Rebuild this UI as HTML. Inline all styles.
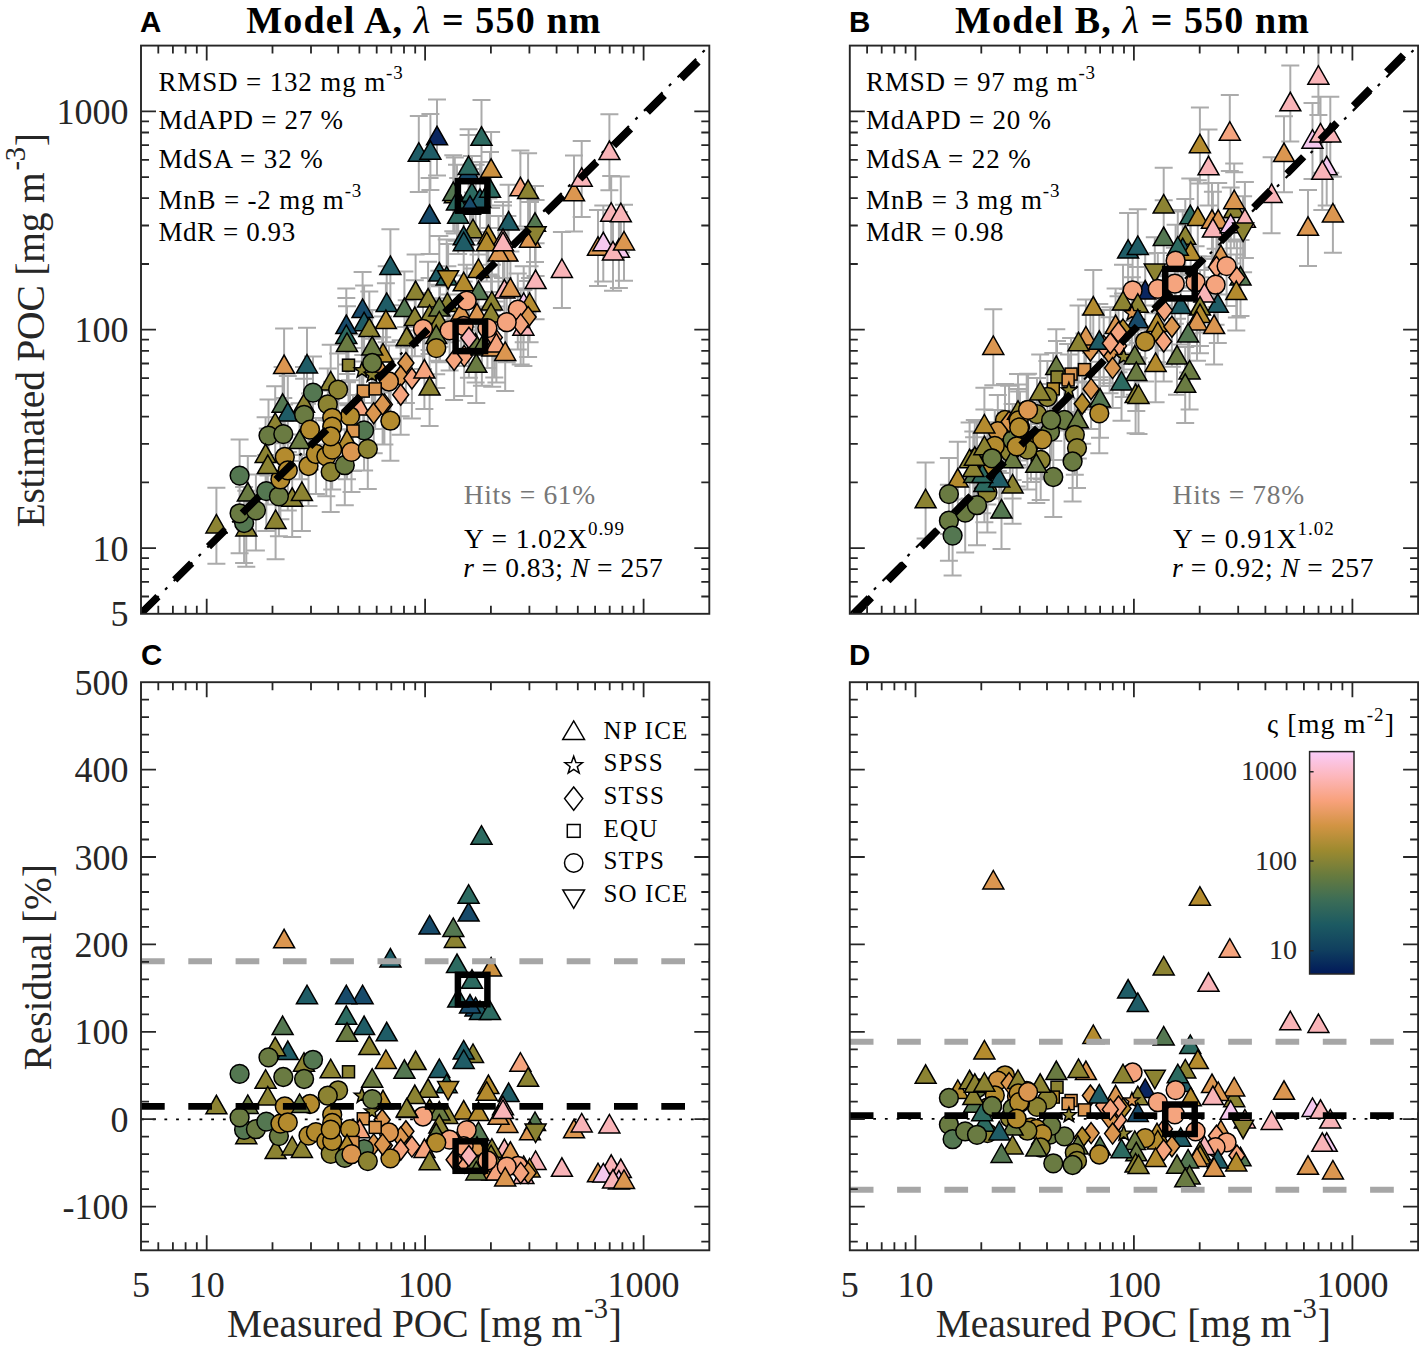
<!DOCTYPE html>
<html><head><meta charset="utf-8"><style>html,body{margin:0;padding:0;background:#fff;width:1419px;height:1350px;overflow:hidden}svg{display:block}</style></head>
<body><svg width="1419" height="1350" viewBox="0 0 1419 1350"><defs><clipPath id="clipA"><rect x="141.0" y="45.6" width="568.3" height="568.2"/></clipPath><clipPath id="clipB"><rect x="849.8" y="45.6" width="568.3" height="568.2"/></clipPath><clipPath id="clipC"><rect x="141.0" y="682.2" width="568.3" height="568.1"/></clipPath><clipPath id="clipD"><rect x="849.8" y="682.2" width="568.3" height="568.1"/></clipPath></defs><rect width="1419" height="1350" fill="#fff"/>
<g clip-path="url(#clipA)">
<path d="M437.0 99.6L437.0 175.6M428.0 99.6L446.0 99.6M428.0 175.6L446.0 175.6M418.8 115.9L418.8 191.9M409.8 115.9L427.8 115.9M409.8 191.9L427.8 191.9M430.4 114.0L430.4 190.0M421.4 114.0L439.4 114.0M421.4 190.0L439.4 190.0M481.5 100.0L481.5 176.0M472.5 100.0L490.5 100.0M472.5 176.0L490.5 176.0M491.1 132.0L491.1 208.0M482.1 132.0L500.1 132.0M482.1 208.0L500.1 208.0M468.6 134.9L468.6 210.9M459.6 134.9L477.6 134.9M459.6 210.9L477.6 210.9M468.6 129.3L468.6 205.3M459.6 129.3L477.6 129.3M459.6 205.3L477.6 205.3M454.8 157.6L454.8 233.6M445.8 157.6L463.8 157.6M445.8 233.6L463.8 233.6M453.3 155.3L453.3 231.3M444.3 155.3L462.3 155.3M444.3 231.3L462.3 231.3M457.0 164.7L457.0 240.7M448.0 164.7L466.0 164.7M448.0 240.7L466.0 240.7M475.6 164.7L475.6 240.7M466.6 164.7L484.6 164.7M466.6 240.7L484.6 240.7M472.0 156.0L472.0 232.0M463.0 156.0L481.0 156.0M463.0 232.0L481.0 232.0M480.0 162.0L480.0 238.0M471.0 162.0L489.0 162.0M471.0 238.0L489.0 238.0M490.0 152.1L490.0 228.1M481.0 152.1L499.0 152.1M481.0 228.1L499.0 228.1M470.0 169.0L470.0 245.0M461.0 169.0L479.0 169.0M461.0 245.0L479.0 245.0M429.6 178.1L429.6 254.1M420.6 178.1L438.6 178.1M420.6 254.1L438.6 254.1M458.2 178.0L458.2 254.0M449.2 178.0L467.2 178.0M449.2 254.0L467.2 254.0M508.6 184.8L508.6 260.8M499.6 184.8L517.6 184.8M499.6 260.8L517.6 260.8M473.0 192.5L473.0 268.5M464.0 192.5L482.0 192.5M464.0 268.5L482.0 268.5M463.7 199.6L463.7 275.6M454.7 199.6L472.7 199.6M454.7 275.6L472.7 275.6M488.4 198.6L488.4 274.6M479.4 198.6L497.4 198.6M479.4 274.6L497.4 274.6M503.0 202.0L503.0 278.0M494.0 202.0L512.0 202.0M494.0 278.0L512.0 278.0M520.4 150.6L520.4 226.6M511.4 150.6L529.4 150.6M511.4 226.6L529.4 226.6M528.1 153.3L528.1 229.3M519.1 153.3L537.1 153.3M519.1 229.3L537.1 229.3M535.0 186.0L535.0 262.0M526.0 186.0L544.0 186.0M526.0 262.0L544.0 262.0M530.0 202.0L530.0 278.0M521.0 202.0L539.0 202.0M521.0 278.0L539.0 278.0M535.6 200.0L535.6 276.0M526.6 200.0L544.6 200.0M526.6 276.0L544.6 276.0M574.0 155.5L574.0 231.5M565.0 155.5L583.0 155.5M565.0 231.5L583.0 231.5M581.7 141.0L581.7 217.0M572.7 141.0L590.7 141.0M572.7 217.0L590.7 217.0M609.4 114.3L609.4 190.3M600.4 114.3L618.4 114.3M600.4 190.3L618.4 190.3M611.2 175.9L611.2 251.9M602.2 175.9L620.2 175.9M602.2 251.9L620.2 251.9M620.8 176.5L620.8 252.5M611.8 176.5L629.8 176.5M611.8 252.5L629.8 252.5M598.0 210.0L598.0 286.0M589.0 210.0L607.0 210.0M589.0 286.0L607.0 286.0M603.3 205.6L603.3 281.6M594.3 205.6L612.3 205.6M594.3 281.6L612.3 281.6M618.9 212.0L618.9 288.0M609.9 212.0L627.9 212.0M609.9 288.0L627.9 288.0M613.0 214.7L613.0 290.7M604.0 214.7L622.0 214.7M604.0 290.7L622.0 290.7M624.0 204.7L624.0 280.7M615.0 204.7L633.0 204.7M615.0 280.7L633.0 280.7M390.4 229.2L390.4 305.2M381.4 229.2L399.4 229.2M381.4 305.2L399.4 305.2M561.9 232.1L561.9 308.1M552.9 232.1L570.9 232.1M552.9 308.1L570.9 308.1M535.6 243.3L535.6 319.3M526.6 243.3L544.6 243.3M526.6 319.3L544.6 319.3M439.3 235.9L439.3 311.9M430.3 235.9L448.3 235.9M430.3 311.9L448.3 311.9M446.7 239.6L446.7 315.6M437.7 239.6L455.7 239.6M437.7 315.6L455.7 315.6M448.1 244.0L448.1 320.0M439.1 244.0L457.1 244.0M439.1 320.0L457.1 320.0M463.7 245.5L463.7 321.5M454.7 245.5L472.7 245.5M454.7 321.5L472.7 321.5M478.5 232.1L478.5 308.1M469.5 232.1L487.5 232.1M469.5 308.1L487.5 308.1M504.4 252.9L504.4 328.9M495.4 252.9L513.4 252.9M495.4 328.9L513.4 328.9M510.4 251.4L510.4 327.4M501.4 251.4L519.4 251.4M501.4 327.4L519.4 327.4M478.5 254.4L478.5 330.4M469.5 254.4L487.5 254.4M469.5 330.4L487.5 330.4M491.9 264.7L491.9 340.7M482.9 264.7L500.9 264.7M482.9 340.7L500.9 340.7M507.4 215.9L507.4 291.9M498.4 215.9L516.4 215.9M498.4 291.9L516.4 291.9M498.5 215.9L498.5 291.9M489.5 215.9L507.5 215.9M489.5 291.9L507.5 291.9M463.7 205.5L463.7 281.5M454.7 205.5L472.7 205.5M454.7 281.5L472.7 281.5M486.7 205.5L486.7 281.5M477.7 205.5L495.7 205.5M477.7 281.5L495.7 281.5M503.0 205.5L503.0 281.5M494.0 205.5L512.0 205.5M494.0 281.5L512.0 281.5M415.6 254.4L415.6 330.4M406.6 254.4L424.6 254.4M406.6 330.4L424.6 330.4M428.1 261.8L428.1 337.8M419.1 261.8L437.1 261.8M419.1 337.8L437.1 337.8M386.7 266.2L386.7 342.2M377.7 266.2L395.7 266.2M377.7 342.2L395.7 342.2M404.4 271.4L404.4 347.4M395.4 271.4L413.4 271.4M395.4 347.4L413.4 347.4M385.9 283.3L385.9 359.3M376.9 283.3L394.9 283.3M376.9 359.3L394.9 359.3M414.8 280.3L414.8 356.3M405.8 280.3L423.8 280.3M405.8 356.3L423.8 356.3M429.6 278.1L429.6 354.1M420.6 278.1L438.6 278.1M420.6 354.1L438.6 354.1M440.0 286.2L440.0 362.2M431.0 286.2L449.0 286.2M431.0 362.2L449.0 362.2M447.4 266.2L447.4 342.2M438.4 266.2L456.4 266.2M438.4 342.2L456.4 342.2M439.3 270.7L439.3 346.7M430.3 270.7L448.3 270.7M430.3 346.7L448.3 346.7M439.3 284.7L439.3 360.7M430.3 284.7L448.3 284.7M430.3 360.7L448.3 360.7M464.2 320.1L464.2 396.1M455.2 320.1L473.2 320.1M455.2 396.1L473.2 396.1M475.6 306.6L475.6 382.6M466.6 306.6L484.6 306.6M466.6 382.6L484.6 382.6M481.9 309.7L481.9 385.7M472.9 309.7L490.9 309.7M472.9 385.7L490.9 385.7M492.2 310.8L492.2 386.8M483.2 310.8L501.2 310.8M483.2 386.8L501.2 386.8M494.3 301.4L494.3 377.4M485.3 301.4L503.3 301.4M485.3 377.4L503.3 377.4M496.4 306.6L496.4 382.6M487.4 306.6L505.4 306.6M487.4 382.6L505.4 382.6M523.4 290.0L523.4 366.0M514.4 290.0L532.4 290.0M514.4 366.0L532.4 366.0M461.1 275.5L461.1 351.5M452.1 275.5L470.1 275.5M452.1 351.5L470.1 351.5M436.2 298.3L436.2 374.3M427.2 298.3L445.2 298.3M427.2 374.3L445.2 374.3M466.7 264.7L466.7 340.7M457.7 264.7L475.7 264.7M457.7 340.7L475.7 340.7M477.0 276.6L477.0 352.6M468.0 276.6L486.0 276.6M468.0 352.6L486.0 352.6M491.1 276.6L491.1 352.6M482.1 276.6L500.1 276.6M482.1 352.6L500.1 352.6M523.7 266.2L523.7 342.2M514.7 266.2L532.7 266.2M514.7 342.2L532.7 342.2M529.6 266.2L529.6 342.2M520.6 266.2L538.6 266.2M520.6 342.2L538.6 342.2M517.8 273.6L517.8 349.6M508.8 273.6L526.8 273.6M508.8 349.6L526.8 349.6M528.1 281.0L528.1 357.0M519.1 281.0L537.1 281.0M519.1 357.0L537.1 357.0M520.7 288.4L520.7 364.4M511.7 288.4L529.7 288.4M511.7 364.4L529.7 364.4M506.7 286.2L506.7 362.2M497.7 286.2L515.7 286.2M497.7 362.2L515.7 362.2M449.6 294.4L449.6 370.4M440.6 294.4L458.6 294.4M440.6 370.4L458.6 370.4M463.7 290.0L463.7 366.0M454.7 290.0L472.7 290.0M454.7 366.0L472.7 366.0M487.4 292.1L487.4 368.1M478.4 292.1L496.4 292.1M478.4 368.1L496.4 368.1M423.0 292.9L423.0 368.9M414.0 292.9L432.0 292.9M414.0 368.9L432.0 368.9M468.9 301.8L468.9 377.8M459.9 301.8L477.9 301.8M459.9 377.8L477.9 377.8M476.3 327.0L476.3 403.0M467.3 327.0L485.3 327.0M467.3 403.0L485.3 403.0M454.1 324.0L454.1 400.0M445.1 324.0L463.1 324.0M445.1 400.0L463.1 400.0M505.2 315.1L505.2 391.1M496.2 315.1L514.2 315.1M496.2 391.1L514.2 391.1M436.3 312.1L436.3 388.1M427.3 312.1L445.3 312.1M427.3 388.1L445.3 388.1M407.4 300.3L407.4 376.3M398.4 300.3L416.4 300.3M398.4 376.3L416.4 376.3M406.7 300.3L406.7 376.3M397.7 300.3L415.7 300.3M397.7 376.3L415.7 376.3M382.2 337.3L382.2 413.3M373.2 337.3L391.2 337.3M373.2 413.3L391.2 413.3M405.9 327.0L405.9 403.0M396.9 327.0L414.9 327.0M396.9 403.0L414.9 403.0M400.7 340.3L400.7 416.3M391.7 340.3L409.7 340.3M391.7 416.3L409.7 416.3M411.9 342.5L411.9 418.5M402.9 342.5L420.9 342.5M402.9 418.5L420.9 418.5M424.4 332.9L424.4 408.9M415.4 332.9L433.4 332.9M415.4 408.9L433.4 408.9M429.6 349.9L429.6 425.9M420.6 349.9L438.6 349.9M420.6 425.9L438.6 425.9M400.7 358.8L400.7 434.8M391.7 358.8L409.7 358.8M391.7 434.8L409.7 434.8M384.4 368.4L384.4 444.4M375.4 368.4L393.4 368.4M375.4 444.4L393.4 444.4M390.4 384.7L390.4 460.7M381.4 384.7L399.4 384.7M381.4 460.7L399.4 460.7M388.9 345.5L388.9 421.5M379.9 345.5L397.9 345.5M379.9 421.5L397.9 421.5M383.0 316.6L383.0 392.6M374.0 316.6L392.0 316.6M374.0 392.6L392.0 392.6M284.1 328.4L284.1 404.4M275.1 328.4L293.1 328.4M275.1 404.4L293.1 404.4M307.0 327.7L307.0 403.7M298.0 327.7L316.0 327.7M298.0 403.7L316.0 403.7M362.6 272.1L362.6 348.1M353.6 272.1L371.6 272.1M353.6 348.1L371.6 348.1M364.1 285.5L364.1 361.5M355.1 285.5L373.1 285.5M355.1 361.5L373.1 361.5M346.3 288.4L346.3 364.4M337.3 288.4L355.3 288.4M337.3 364.4L355.3 364.4M346.3 298.1L346.3 374.1M337.3 298.1L355.3 298.1M337.3 374.1L355.3 374.1M347.0 306.2L347.0 382.2M338.0 306.2L356.0 306.2M338.0 382.2L356.0 382.2M369.3 291.4L369.3 367.4M360.3 291.4L378.3 291.4M360.3 367.4L378.3 367.4M372.2 309.9L372.2 385.9M363.2 309.9L381.2 309.9M363.2 385.9L381.2 385.9M348.5 329.2L348.5 405.2M339.5 329.2L357.5 329.2M339.5 405.2L357.5 405.2M361.9 334.4L361.9 410.4M352.9 334.4L370.9 334.4M352.9 410.4L370.9 410.4M371.9 338.8L371.9 414.8M362.9 338.8L380.9 338.8M362.9 414.8L380.9 414.8M372.2 327.0L372.2 403.0M363.2 327.0L381.2 327.0M363.2 403.0L381.2 403.0M330.7 344.7L330.7 420.7M321.7 344.7L339.7 344.7M321.7 420.7L339.7 420.7M304.0 367.0L304.0 443.0M295.0 367.0L313.0 367.0M295.0 443.0L313.0 443.0M338.1 353.6L338.1 429.6M329.1 353.6L347.1 353.6M329.1 429.6L347.1 429.6M313.0 356.6L313.0 432.6M304.0 356.6L322.0 356.6M304.0 432.6L322.0 432.6M363.3 355.1L363.3 431.1M354.3 355.1L372.3 355.1M354.3 431.1L372.3 431.1M375.2 352.9L375.2 428.9M366.2 352.9L384.2 352.9M366.2 428.9L384.2 428.9M327.8 368.4L327.8 444.4M318.8 368.4L336.8 368.4M318.8 444.4L336.8 444.4M282.6 367.0L282.6 443.0M273.6 367.0L291.6 367.0M273.6 443.0L291.6 443.0M287.8 375.9L287.8 451.9M278.8 375.9L296.8 375.9M278.8 451.9L296.8 451.9M304.1 378.8L304.1 454.8M295.1 378.8L313.1 378.8M295.1 454.8L313.1 454.8M359.6 369.9L359.6 445.9M350.6 369.9L368.6 369.9M350.6 445.9L368.6 445.9M373.7 377.3L373.7 453.3M364.7 377.3L382.7 377.3M364.7 453.3L382.7 453.3M382.6 368.4L382.6 444.4M373.6 368.4L391.6 368.4M373.6 444.4L391.6 444.4M350.0 380.3L350.0 456.3M341.0 380.3L359.0 380.3M341.0 456.3L359.0 456.3M332.2 381.8L332.2 457.8M323.2 381.8L341.2 381.8M323.2 457.8L341.2 457.8M332.2 390.7L332.2 466.7M323.2 390.7L341.2 390.7M323.2 466.7L341.2 466.7M275.2 386.2L275.2 462.2M266.2 386.2L284.2 386.2M266.2 462.2L284.2 462.2M268.5 399.6L268.5 475.6M259.5 399.6L277.5 399.6M259.5 475.6L277.5 475.6M283.3 398.1L283.3 474.1M274.3 398.1L292.3 398.1M274.3 474.1L292.3 474.1M310.0 393.6L310.0 469.6M301.0 393.6L319.0 393.6M301.0 469.6L319.0 469.6M364.1 394.4L364.1 470.4M355.1 394.4L373.1 394.4M355.1 470.4L373.1 470.4M353.0 395.0L353.0 471.0M344.0 395.0L362.0 395.0M344.0 471.0L362.0 471.0M216.4 487.7L216.4 563.7M207.4 487.7L225.4 487.7M207.4 563.7L225.4 563.7M239.6 439.6L239.6 515.6M230.6 439.6L248.6 439.6M230.6 515.6L248.6 515.6M247.8 455.9L247.8 531.9M238.8 455.9L256.8 455.9M238.8 531.9L256.8 531.9M246.3 490.7L246.3 566.7M237.3 490.7L255.3 490.7M237.3 566.7L255.3 566.7M244.1 487.0L244.1 563.0M235.1 487.0L253.1 487.0M235.1 563.0L253.1 563.0M239.6 477.3L239.6 553.3M230.6 477.3L248.6 477.3M230.6 553.3L248.6 553.3M255.9 474.4L255.9 550.4M246.9 474.4L264.9 474.4M246.9 550.4L264.9 550.4M275.6 483.3L275.6 559.3M266.6 483.3L284.6 483.3M266.6 559.3L284.6 559.3M292.2 461.0L292.2 537.0M283.2 461.0L301.2 461.0M283.2 537.0L301.2 537.0M301.9 455.1L301.9 531.1M292.9 455.1L310.9 455.1M292.9 531.1L310.9 531.1M266.3 455.1L266.3 531.1M257.3 455.1L275.3 455.1M257.3 531.1L275.3 531.1M278.9 460.3L278.9 536.3M269.9 460.3L287.9 460.3M269.9 536.3L287.9 536.3M280.4 443.3L280.4 519.3M271.4 443.3L289.4 443.3M271.4 519.3L289.4 519.3M265.6 417.3L265.6 493.3M256.6 417.3L274.6 417.3M256.6 493.3L274.6 493.3M267.8 428.4L267.8 504.4M258.8 428.4L276.8 428.4M258.8 504.4L276.8 504.4M299.6 403.3L299.6 479.3M290.6 403.3L308.6 403.3M290.6 479.3L308.6 479.3M347.0 403.3L347.0 479.3M338.0 403.3L356.0 403.3M338.0 479.3L356.0 479.3M284.8 421.0L284.8 497.0M275.8 421.0L293.8 421.0M275.8 497.0L293.8 497.0M287.8 434.4L287.8 510.4M278.8 434.4L296.8 434.4M278.8 510.4L296.8 510.4M308.5 430.0L308.5 506.0M299.5 430.0L317.5 430.0M299.5 506.0L317.5 506.0M315.9 418.0L315.9 494.0M306.9 418.0L324.9 418.0M306.9 494.0L324.9 494.0M326.3 420.3L326.3 496.3M317.3 420.3L335.3 420.3M317.3 496.3L335.3 496.3M330.7 435.9L330.7 511.9M321.7 435.9L339.7 435.9M321.7 511.9L339.7 511.9M344.8 429.2L344.8 505.2M335.8 429.2L353.8 429.2M335.8 505.2L353.8 505.2M351.5 415.9L351.5 491.9M342.5 415.9L360.5 415.9M342.5 491.9L360.5 491.9M367.8 412.9L367.8 488.9M358.8 412.9L376.8 412.9M358.8 488.9L376.8 488.9M332.2 413.6L332.2 489.6M323.2 413.6L341.2 413.6M323.2 489.6L341.2 489.6M330.7 400.3L330.7 476.3M321.7 400.3L339.7 400.3M321.7 476.3L339.7 476.3" stroke="#ABABAB" stroke-width="2" fill="none"/>
<line x1="141.0" y1="613.8" x2="709.3" y2="45.6" stroke="#000" stroke-width="2.2" stroke-dasharray="26.2 9.1 3 9.2" stroke-dashoffset="1.2"/>
<path d="M426.5 144.8L437.0 126.3L447.5 144.8Z" fill="#0A2660" stroke="#000" stroke-width="1.5" stroke-linejoin="miter"/>
<path d="M408.3 161.2L418.8 142.7L429.3 161.2Z" fill="#1F5C66" stroke="#000" stroke-width="1.5" stroke-linejoin="miter"/>
<path d="M419.9 159.2L430.4 140.8L440.9 159.2Z" fill="#1F5C66" stroke="#000" stroke-width="1.5" stroke-linejoin="miter"/>
<path d="M471.0 145.2L481.5 126.8L492.0 145.2Z" fill="#2C6A60" stroke="#000" stroke-width="1.5" stroke-linejoin="miter"/>
<path d="M480.6 177.2L491.1 158.8L501.6 177.2Z" fill="#CC9140" stroke="#000" stroke-width="1.5" stroke-linejoin="miter"/>
<path d="M458.1 180.2L468.6 161.7L479.1 180.2Z" fill="#174A6A" stroke="#000" stroke-width="1.5" stroke-linejoin="miter"/>
<path d="M458.1 174.6L468.6 156.1L479.1 174.6Z" fill="#2C6A60" stroke="#000" stroke-width="1.5" stroke-linejoin="miter"/>
<path d="M444.3 202.8L454.8 184.3L465.3 202.8Z" fill="#8C8332" stroke="#000" stroke-width="1.5" stroke-linejoin="miter"/>
<path d="M442.8 200.6L453.3 182.1L463.8 200.6Z" fill="#547751" stroke="#000" stroke-width="1.5" stroke-linejoin="miter"/>
<path d="M446.5 209.9L457.0 191.4L467.5 209.9Z" fill="#2C6A60" stroke="#000" stroke-width="1.5" stroke-linejoin="miter"/>
<path d="M465.1 209.9L475.6 191.4L486.1 209.9Z" fill="#174A6A" stroke="#000" stroke-width="1.5" stroke-linejoin="miter"/>
<path d="M461.5 201.2L472.0 182.8L482.5 201.2Z" fill="#2C6A60" stroke="#000" stroke-width="1.5" stroke-linejoin="miter"/>
<path d="M469.5 207.2L480.0 188.8L490.5 207.2Z" fill="#1F5C66" stroke="#000" stroke-width="1.5" stroke-linejoin="miter"/>
<path d="M479.5 197.3L490.0 178.8L500.5 197.3Z" fill="#2C6A60" stroke="#000" stroke-width="1.5" stroke-linejoin="miter"/>
<path d="M459.5 214.2L470.0 195.8L480.5 214.2Z" fill="#174A6A" stroke="#000" stroke-width="1.5" stroke-linejoin="miter"/>
<path d="M419.1 223.3L429.6 204.8L440.1 223.3Z" fill="#174A6A" stroke="#000" stroke-width="1.5" stroke-linejoin="miter"/>
<path d="M447.7 223.2L458.2 204.8L468.7 223.2Z" fill="#2C6A60" stroke="#000" stroke-width="1.5" stroke-linejoin="miter"/>
<path d="M498.1 230.1L508.6 211.6L519.1 230.1Z" fill="#1F5C66" stroke="#000" stroke-width="1.5" stroke-linejoin="miter"/>
<path d="M462.5 237.8L473.0 219.2L483.5 237.8Z" fill="#8C8332" stroke="#000" stroke-width="1.5" stroke-linejoin="miter"/>
<path d="M453.2 244.8L463.7 226.3L474.2 244.8Z" fill="#1F5C66" stroke="#000" stroke-width="1.5" stroke-linejoin="miter"/>
<path d="M477.9 243.8L488.4 225.3L498.9 243.8Z" fill="#B48B2E" stroke="#000" stroke-width="1.5" stroke-linejoin="miter"/>
<path d="M492.5 247.2L503.0 228.8L513.5 247.2Z" fill="#F9B4B8" stroke="#000" stroke-width="1.5" stroke-linejoin="miter"/>
<path d="M509.9 195.8L520.4 177.3L530.9 195.8Z" fill="#F5A47E" stroke="#000" stroke-width="1.5" stroke-linejoin="miter"/>
<path d="M517.6 198.6L528.1 180.1L538.6 198.6Z" fill="#8C8332" stroke="#000" stroke-width="1.5" stroke-linejoin="miter"/>
<path d="M524.5 231.2L535.0 212.8L545.5 231.2Z" fill="#547751" stroke="#000" stroke-width="1.5" stroke-linejoin="miter"/>
<path d="M519.5 247.2L530.0 228.8L540.5 247.2Z" fill="#DB9650" stroke="#000" stroke-width="1.5" stroke-linejoin="miter"/>
<path d="M525.1 226.8L535.6 245.2L546.1 226.8Z" fill="#8C8332" stroke="#000" stroke-width="1.5"/>
<path d="M563.5 200.8L574.0 182.2L584.5 200.8Z" fill="#DB9650" stroke="#000" stroke-width="1.5" stroke-linejoin="miter"/>
<path d="M571.2 186.2L581.7 167.8L592.2 186.2Z" fill="#F9B4B8" stroke="#000" stroke-width="1.5" stroke-linejoin="miter"/>
<path d="M598.9 159.6L609.4 141.1L619.9 159.6Z" fill="#F9B4B8" stroke="#000" stroke-width="1.5" stroke-linejoin="miter"/>
<path d="M600.7 221.2L611.2 202.7L621.7 221.2Z" fill="#F9B4B8" stroke="#000" stroke-width="1.5" stroke-linejoin="miter"/>
<path d="M610.3 221.8L620.8 203.2L631.3 221.8Z" fill="#F9B4B8" stroke="#000" stroke-width="1.5" stroke-linejoin="miter"/>
<path d="M587.5 255.2L598.0 236.8L608.5 255.2Z" fill="#DB9650" stroke="#000" stroke-width="1.5" stroke-linejoin="miter"/>
<path d="M592.8 250.8L603.3 232.3L613.8 250.8Z" fill="#F5C8EE" stroke="#000" stroke-width="1.5" stroke-linejoin="miter"/>
<path d="M608.4 257.2L618.9 238.8L629.4 257.2Z" fill="#F5C8EE" stroke="#000" stroke-width="1.5" stroke-linejoin="miter"/>
<path d="M602.5 259.9L613.0 241.4L623.5 259.9Z" fill="#F9B4B8" stroke="#000" stroke-width="1.5" stroke-linejoin="miter"/>
<path d="M613.5 249.9L624.0 231.4L634.5 249.9Z" fill="#DB9650" stroke="#000" stroke-width="1.5" stroke-linejoin="miter"/>
<path d="M379.9 274.4L390.4 255.9L400.9 274.4Z" fill="#1F5C66" stroke="#000" stroke-width="1.5" stroke-linejoin="miter"/>
<path d="M551.4 277.4L561.9 258.9L572.4 277.4Z" fill="#F9B4B8" stroke="#000" stroke-width="1.5" stroke-linejoin="miter"/>
<path d="M525.1 288.6L535.6 270.1L546.1 288.6Z" fill="#F9B4B8" stroke="#000" stroke-width="1.5" stroke-linejoin="miter"/>
<path d="M428.8 281.1L439.3 262.6L449.8 281.1Z" fill="#1F5C66" stroke="#000" stroke-width="1.5" stroke-linejoin="miter"/>
<path d="M436.2 284.9L446.7 266.4L457.2 284.9Z" fill="#2C6A60" stroke="#000" stroke-width="1.5" stroke-linejoin="miter"/>
<path d="M437.6 270.8L448.1 289.2L458.6 270.8Z" fill="#B48B2E" stroke="#000" stroke-width="1.5"/>
<path d="M453.2 290.8L463.7 272.2L474.2 290.8Z" fill="#B48B2E" stroke="#000" stroke-width="1.5" stroke-linejoin="miter"/>
<path d="M468.0 277.4L478.5 258.9L489.0 277.4Z" fill="#B48B2E" stroke="#000" stroke-width="1.5" stroke-linejoin="miter"/>
<path d="M493.9 298.1L504.4 279.6L514.9 298.1Z" fill="#F9B4B8" stroke="#000" stroke-width="1.5" stroke-linejoin="miter"/>
<path d="M499.9 296.6L510.4 278.1L520.9 296.6Z" fill="#DB9650" stroke="#000" stroke-width="1.5" stroke-linejoin="miter"/>
<path d="M468.0 299.6L478.5 281.1L489.0 299.6Z" fill="#547751" stroke="#000" stroke-width="1.5" stroke-linejoin="miter"/>
<path d="M481.4 309.9L491.9 291.4L502.4 309.9Z" fill="#8C8332" stroke="#000" stroke-width="1.5" stroke-linejoin="miter"/>
<path d="M496.9 261.1L507.4 242.7L517.9 261.1Z" fill="#DB9650" stroke="#000" stroke-width="1.5" stroke-linejoin="miter"/>
<path d="M488.0 261.1L498.5 242.7L509.0 261.1Z" fill="#DB9650" stroke="#000" stroke-width="1.5" stroke-linejoin="miter"/>
<path d="M453.2 250.8L463.7 232.2L474.2 250.8Z" fill="#1F5C66" stroke="#000" stroke-width="1.5" stroke-linejoin="miter"/>
<path d="M476.2 250.8L486.7 232.2L497.2 250.8Z" fill="#B48B2E" stroke="#000" stroke-width="1.5" stroke-linejoin="miter"/>
<path d="M492.5 250.8L503.0 232.2L513.5 250.8Z" fill="#F9B4B8" stroke="#000" stroke-width="1.5" stroke-linejoin="miter"/>
<path d="M405.1 299.6L415.6 281.1L426.1 299.6Z" fill="#8C8332" stroke="#000" stroke-width="1.5" stroke-linejoin="miter"/>
<path d="M417.6 307.1L428.1 288.6L438.6 307.1Z" fill="#8C8332" stroke="#000" stroke-width="1.5" stroke-linejoin="miter"/>
<path d="M376.2 311.4L386.7 292.9L397.2 311.4Z" fill="#1F5C66" stroke="#000" stroke-width="1.5" stroke-linejoin="miter"/>
<path d="M393.9 316.6L404.4 298.1L414.9 316.6Z" fill="#547751" stroke="#000" stroke-width="1.5" stroke-linejoin="miter"/>
<path d="M375.4 328.6L385.9 310.1L396.4 328.6Z" fill="#B48B2E" stroke="#000" stroke-width="1.5" stroke-linejoin="miter"/>
<path d="M404.3 325.6L414.8 307.1L425.3 325.6Z" fill="#8C8332" stroke="#000" stroke-width="1.5" stroke-linejoin="miter"/>
<path d="M419.1 323.4L429.6 304.9L440.1 323.4Z" fill="#8C8332" stroke="#000" stroke-width="1.5" stroke-linejoin="miter"/>
<path d="M429.5 331.4L440.0 312.9L450.5 331.4Z" fill="#8C8332" stroke="#000" stroke-width="1.5" stroke-linejoin="miter"/>
<path d="M436.9 311.4L447.4 292.9L457.9 311.4Z" fill="#8C8332" stroke="#000" stroke-width="1.5" stroke-linejoin="miter"/>
<path d="M428.8 315.9L439.3 297.4L449.8 315.9Z" fill="#6A7B42" stroke="#000" stroke-width="1.5" stroke-linejoin="miter"/>
<path d="M428.8 329.9L439.3 311.4L449.8 329.9Z" fill="#8C8332" stroke="#000" stroke-width="1.5" stroke-linejoin="miter"/>
<path d="M464.2 345.6L472.2 356.1L464.2 366.6L456.2 356.1Z" fill="#F5A47E" stroke="#000" stroke-width="1.5"/>
<path d="M465.1 351.9L475.6 333.4L486.1 351.9Z" fill="#6A7B42" stroke="#000" stroke-width="1.5" stroke-linejoin="miter"/>
<path d="M471.4 354.9L481.9 336.4L492.4 354.9Z" fill="#6A7B42" stroke="#000" stroke-width="1.5" stroke-linejoin="miter"/>
<path d="M481.7 356.1L492.2 337.6L502.7 356.1Z" fill="#DB9650" stroke="#000" stroke-width="1.5" stroke-linejoin="miter"/>
<path d="M494.3 326.9L502.3 337.4L494.3 347.9L486.3 337.4Z" fill="#F5A47E" stroke="#000" stroke-width="1.5"/>
<path d="M485.9 351.9L496.4 333.4L506.9 351.9Z" fill="#F5A47E" stroke="#000" stroke-width="1.5" stroke-linejoin="miter"/>
<path d="M512.9 335.2L523.4 316.8L533.9 335.2Z" fill="#F9B4B8" stroke="#000" stroke-width="1.5" stroke-linejoin="miter"/>
<path d="M450.6 320.8L461.1 302.2L471.6 320.8Z" fill="#DB9650" stroke="#000" stroke-width="1.5" stroke-linejoin="miter"/>
<path d="M425.7 343.6L436.2 325.1L446.7 343.6Z" fill="#6A7B42" stroke="#000" stroke-width="1.5" stroke-linejoin="miter"/>
<circle cx="466.7" cy="300.7" r="9.4" fill="#F5A47E" stroke="#000" stroke-width="1.5"/>
<path d="M466.5 321.9L477.0 303.4L487.5 321.9Z" fill="#DB9650" stroke="#000" stroke-width="1.5" stroke-linejoin="miter"/>
<path d="M480.6 321.9L491.1 303.4L501.6 321.9Z" fill="#8C8332" stroke="#000" stroke-width="1.5" stroke-linejoin="miter"/>
<path d="M513.2 311.4L523.7 292.9L534.2 311.4Z" fill="#F5C8EE" stroke="#000" stroke-width="1.5" stroke-linejoin="miter"/>
<path d="M519.1 311.4L529.6 292.9L540.1 311.4Z" fill="#B48B2E" stroke="#000" stroke-width="1.5" stroke-linejoin="miter"/>
<circle cx="517.8" cy="309.6" r="9.4" fill="#F5A47E" stroke="#000" stroke-width="1.5"/>
<path d="M528.1 306.5L536.1 317.0L528.1 327.5L520.1 317.0Z" fill="#DB9650" stroke="#000" stroke-width="1.5"/>
<path d="M520.7 313.9L528.7 324.4L520.7 334.9L512.7 324.4Z" fill="#F5A47E" stroke="#000" stroke-width="1.5"/>
<circle cx="506.7" cy="322.2" r="9.4" fill="#F5A47E" stroke="#000" stroke-width="1.5"/>
<circle cx="449.6" cy="330.4" r="9.4" fill="#F5A47E" stroke="#000" stroke-width="1.5"/>
<circle cx="463.7" cy="326.0" r="9.4" fill="#F5A47E" stroke="#000" stroke-width="1.5"/>
<circle cx="487.4" cy="328.1" r="9.4" fill="#F5A47E" stroke="#000" stroke-width="1.5"/>
<circle cx="423.0" cy="328.9" r="9.4" fill="#F5A47E" stroke="#000" stroke-width="1.5"/>
<path d="M468.9 327.3L476.9 337.8L468.9 348.3L460.9 337.8Z" fill="#F9B4B8" stroke="#000" stroke-width="1.5"/>
<path d="M465.8 372.2L476.3 353.8L486.8 372.2Z" fill="#6A7B42" stroke="#000" stroke-width="1.5" stroke-linejoin="miter"/>
<path d="M454.1 349.5L462.1 360.0L454.1 370.5L446.1 360.0Z" fill="#F5A47E" stroke="#000" stroke-width="1.5"/>
<path d="M494.7 360.4L505.2 341.9L515.7 360.4Z" fill="#DB9650" stroke="#000" stroke-width="1.5" stroke-linejoin="miter"/>
<circle cx="436.3" cy="348.1" r="9.4" fill="#B48B2E" stroke="#000" stroke-width="1.5"/>
<path d="M396.9 345.6L407.4 327.1L417.9 345.6Z" fill="#B48B2E" stroke="#000" stroke-width="1.5" stroke-linejoin="miter"/>
<path d="M396.2 345.6L406.7 327.1L417.2 345.6Z" fill="#8C8332" stroke="#000" stroke-width="1.5" stroke-linejoin="miter"/>
<path d="M382.2 362.8L390.2 373.3L382.2 383.8L374.2 373.3Z" fill="#DB9650" stroke="#000" stroke-width="1.5"/>
<path d="M405.9 352.5L413.9 363.0L405.9 373.5L397.9 363.0Z" fill="#DB9650" stroke="#000" stroke-width="1.5"/>
<path d="M400.7 365.8L408.7 376.3L400.7 386.8L392.7 376.3Z" fill="#DB9650" stroke="#000" stroke-width="1.5"/>
<path d="M411.9 368.0L419.9 378.5L411.9 389.0L403.9 378.5Z" fill="#F5A47E" stroke="#000" stroke-width="1.5"/>
<path d="M413.9 378.1L424.4 359.6L434.9 378.1Z" fill="#F5A47E" stroke="#000" stroke-width="1.5" stroke-linejoin="miter"/>
<path d="M419.1 395.1L429.6 376.6L440.1 395.1Z" fill="#8C8332" stroke="#000" stroke-width="1.5" stroke-linejoin="miter"/>
<path d="M400.7 384.3L408.7 394.8L400.7 405.3L392.7 394.8Z" fill="#F5A47E" stroke="#000" stroke-width="1.5"/>
<path d="M384.4 393.9L392.4 404.4L384.4 414.9L376.4 404.4Z" fill="#DB9650" stroke="#000" stroke-width="1.5"/>
<circle cx="390.4" cy="420.7" r="9.4" fill="#B48B2E" stroke="#000" stroke-width="1.5"/>
<circle cx="388.9" cy="381.5" r="9.4" fill="#DB9650" stroke="#000" stroke-width="1.5"/>
<path d="M372.5 361.9L383.0 343.4L393.5 361.9Z" fill="#B48B2E" stroke="#000" stroke-width="1.5" stroke-linejoin="miter"/>
<path d="M273.6 373.6L284.1 355.1L294.6 373.6Z" fill="#DB9650" stroke="#000" stroke-width="1.5" stroke-linejoin="miter"/>
<path d="M296.5 372.9L307.0 354.4L317.5 372.9Z" fill="#1F5C66" stroke="#000" stroke-width="1.5" stroke-linejoin="miter"/>
<path d="M352.1 317.4L362.6 298.9L373.1 317.4Z" fill="#174A6A" stroke="#000" stroke-width="1.5" stroke-linejoin="miter"/>
<path d="M353.6 330.8L364.1 312.2L374.6 330.8Z" fill="#1F5C66" stroke="#000" stroke-width="1.5" stroke-linejoin="miter"/>
<path d="M335.8 333.6L346.3 315.1L356.8 333.6Z" fill="#174A6A" stroke="#000" stroke-width="1.5" stroke-linejoin="miter"/>
<path d="M335.8 343.4L346.3 324.9L356.8 343.4Z" fill="#2C6A60" stroke="#000" stroke-width="1.5" stroke-linejoin="miter"/>
<path d="M336.5 351.4L347.0 332.9L357.5 351.4Z" fill="#6A7B42" stroke="#000" stroke-width="1.5" stroke-linejoin="miter"/>
<path d="M358.8 336.6L369.3 318.1L379.8 336.6Z" fill="#8C8332" stroke="#000" stroke-width="1.5" stroke-linejoin="miter"/>
<path d="M361.7 355.1L372.2 336.6L382.7 355.1Z" fill="#6A7B42" stroke="#000" stroke-width="1.5" stroke-linejoin="miter"/>
<rect x="342.5" y="359.2" width="12" height="12" fill="#8C8332" stroke="#000" stroke-width="1.5"/>
<path d="M361.9 362.4L363.9 367.6L369.5 367.9L365.1 371.5L366.6 376.9L361.9 373.8L357.2 376.9L358.7 371.5L354.3 367.9L359.9 367.6Z" fill="#8C8332" stroke="#000" stroke-width="1.5"/>
<path d="M371.9 366.8L373.9 372.0L379.5 372.3L375.1 375.9L376.6 381.3L371.9 378.2L367.2 381.3L368.7 375.9L364.3 372.3L369.9 372.0Z" fill="#8C8332" stroke="#000" stroke-width="1.5"/>
<circle cx="372.2" cy="363.0" r="9.4" fill="#6A7B42" stroke="#000" stroke-width="1.5"/>
<path d="M320.2 389.9L330.7 371.4L341.2 389.9Z" fill="#8C8332" stroke="#000" stroke-width="1.5" stroke-linejoin="miter"/>
<path d="M293.5 412.2L304.0 393.8L314.5 412.2Z" fill="#8C8332" stroke="#000" stroke-width="1.5" stroke-linejoin="miter"/>
<circle cx="338.1" cy="389.6" r="9.4" fill="#8C8332" stroke="#000" stroke-width="1.5"/>
<circle cx="313.0" cy="392.6" r="9.4" fill="#547751" stroke="#000" stroke-width="1.5"/>
<rect x="357.3" y="385.1" width="12" height="12" fill="#DB9650" stroke="#000" stroke-width="1.5"/>
<rect x="369.2" y="382.9" width="12" height="12" fill="#DB9650" stroke="#000" stroke-width="1.5"/>
<circle cx="327.8" cy="404.4" r="9.4" fill="#8C8332" stroke="#000" stroke-width="1.5"/>
<path d="M272.1 412.2L282.6 393.8L293.1 412.2Z" fill="#547751" stroke="#000" stroke-width="1.5" stroke-linejoin="miter"/>
<path d="M277.3 421.1L287.8 402.6L298.3 421.1Z" fill="#1F5C66" stroke="#000" stroke-width="1.5" stroke-linejoin="miter"/>
<circle cx="304.1" cy="414.8" r="9.4" fill="#6A7B42" stroke="#000" stroke-width="1.5"/>
<path d="M349.1 415.1L359.6 396.6L370.1 415.1Z" fill="#F5A47E" stroke="#000" stroke-width="1.5" stroke-linejoin="miter"/>
<path d="M373.7 402.8L381.7 413.3L373.7 423.8L365.7 413.3Z" fill="#DB9650" stroke="#000" stroke-width="1.5"/>
<path d="M382.6 393.9L390.6 404.4L382.6 414.9L374.6 404.4Z" fill="#DB9650" stroke="#000" stroke-width="1.5"/>
<circle cx="350.0" cy="416.3" r="9.4" fill="#B48B2E" stroke="#000" stroke-width="1.5"/>
<circle cx="332.2" cy="417.8" r="9.4" fill="#B48B2E" stroke="#000" stroke-width="1.5"/>
<circle cx="332.2" cy="426.7" r="9.4" fill="#B48B2E" stroke="#000" stroke-width="1.5"/>
<path d="M264.7 431.4L275.2 412.9L285.7 431.4Z" fill="#8C8332" stroke="#000" stroke-width="1.5" stroke-linejoin="miter"/>
<circle cx="268.5" cy="435.6" r="9.4" fill="#6A7B42" stroke="#000" stroke-width="1.5"/>
<circle cx="283.3" cy="434.1" r="9.4" fill="#6A7B42" stroke="#000" stroke-width="1.5"/>
<circle cx="310.0" cy="429.6" r="9.4" fill="#B48B2E" stroke="#000" stroke-width="1.5"/>
<circle cx="364.1" cy="430.4" r="9.4" fill="#547751" stroke="#000" stroke-width="1.5"/>
<rect x="347.0" y="425.0" width="12" height="12" fill="#DB9650" stroke="#000" stroke-width="1.5"/>
<path d="M205.9 533.0L216.4 514.5L226.9 533.0Z" fill="#8C8332" stroke="#000" stroke-width="1.5" stroke-linejoin="miter"/>
<circle cx="239.6" cy="475.6" r="9.4" fill="#547751" stroke="#000" stroke-width="1.5"/>
<path d="M237.3 501.1L247.8 482.6L258.3 501.1Z" fill="#6A7B42" stroke="#000" stroke-width="1.5" stroke-linejoin="miter"/>
<path d="M235.8 536.0L246.3 517.5L256.8 536.0Z" fill="#8C8332" stroke="#000" stroke-width="1.5" stroke-linejoin="miter"/>
<circle cx="244.1" cy="523.0" r="9.4" fill="#547751" stroke="#000" stroke-width="1.5"/>
<circle cx="239.6" cy="513.3" r="9.4" fill="#6A7B42" stroke="#000" stroke-width="1.5"/>
<circle cx="255.9" cy="510.4" r="9.4" fill="#6A7B42" stroke="#000" stroke-width="1.5"/>
<path d="M265.1 528.5L275.6 510.0L286.1 528.5Z" fill="#8C8332" stroke="#000" stroke-width="1.5" stroke-linejoin="miter"/>
<path d="M281.7 506.2L292.2 487.8L302.7 506.2Z" fill="#8C8332" stroke="#000" stroke-width="1.5" stroke-linejoin="miter"/>
<path d="M291.4 500.4L301.9 481.9L312.4 500.4Z" fill="#8C8332" stroke="#000" stroke-width="1.5" stroke-linejoin="miter"/>
<circle cx="266.3" cy="491.1" r="9.4" fill="#547751" stroke="#000" stroke-width="1.5"/>
<circle cx="278.9" cy="496.3" r="9.4" fill="#6A7B42" stroke="#000" stroke-width="1.5"/>
<circle cx="280.4" cy="479.3" r="9.4" fill="#B48B2E" stroke="#000" stroke-width="1.5"/>
<path d="M255.1 462.6L265.6 444.1L276.1 462.6Z" fill="#8C8332" stroke="#000" stroke-width="1.5" stroke-linejoin="miter"/>
<path d="M257.3 473.6L267.8 455.1L278.3 473.6Z" fill="#8C8332" stroke="#000" stroke-width="1.5" stroke-linejoin="miter"/>
<path d="M289.1 448.6L299.6 430.1L310.1 448.6Z" fill="#6A7B42" stroke="#000" stroke-width="1.5" stroke-linejoin="miter"/>
<path d="M336.5 448.6L347.0 430.1L357.5 448.6Z" fill="#B48B2E" stroke="#000" stroke-width="1.5" stroke-linejoin="miter"/>
<circle cx="284.8" cy="457.0" r="9.4" fill="#B48B2E" stroke="#000" stroke-width="1.5"/>
<circle cx="287.8" cy="470.4" r="9.4" fill="#B48B2E" stroke="#000" stroke-width="1.5"/>
<circle cx="308.5" cy="466.0" r="9.4" fill="#B48B2E" stroke="#000" stroke-width="1.5"/>
<circle cx="315.9" cy="454.0" r="9.4" fill="#B48B2E" stroke="#000" stroke-width="1.5"/>
<circle cx="326.3" cy="456.3" r="9.4" fill="#B48B2E" stroke="#000" stroke-width="1.5"/>
<circle cx="330.7" cy="471.9" r="9.4" fill="#8C8332" stroke="#000" stroke-width="1.5"/>
<circle cx="344.8" cy="465.2" r="9.4" fill="#6A7B42" stroke="#000" stroke-width="1.5"/>
<circle cx="351.5" cy="451.9" r="9.4" fill="#DB9650" stroke="#000" stroke-width="1.5"/>
<circle cx="367.8" cy="448.9" r="9.4" fill="#8C8332" stroke="#000" stroke-width="1.5"/>
<circle cx="332.2" cy="449.6" r="9.4" fill="#B48B2E" stroke="#000" stroke-width="1.5"/>
<circle cx="330.7" cy="436.3" r="9.4" fill="#B48B2E" stroke="#000" stroke-width="1.5"/>
<line x1="141.0" y1="613.4" x2="709.3" y2="50.8" stroke="#000" stroke-width="7.4" stroke-dasharray="23.8 23.7" stroke-dashoffset="0.0"/>
<rect x="457.9" y="181.2" width="29.5" height="29.5" fill="none" stroke="#000" stroke-width="6.5"/>
<rect x="455.6" y="321.6" width="29.5" height="29.5" fill="none" stroke="#000" stroke-width="6.5"/>
</g>
<g clip-path="url(#clipB)">
<path d="M1318.4 38.9L1318.4 114.9M1309.4 38.9L1327.4 38.9M1309.4 114.9L1327.4 114.9M1290.3 65.6L1290.3 141.6M1281.3 65.6L1299.3 65.6M1281.3 141.6L1299.3 141.6M1229.8 94.9L1229.8 170.9M1220.8 94.9L1238.8 94.9M1220.8 170.9L1238.8 170.9M1199.9 107.4L1199.9 183.4M1190.9 107.4L1208.9 107.4M1190.9 183.4L1208.9 183.4M1208.5 129.6L1208.5 205.6M1199.5 129.6L1217.5 129.6M1199.5 205.6L1217.5 205.6M1284.0 116.3L1284.0 192.3M1275.0 116.3L1293.0 116.3M1275.0 192.3L1293.0 192.3M1312.5 102.9L1312.5 178.9M1303.5 102.9L1321.5 102.9M1303.5 178.9L1321.5 178.9M1320.5 96.7L1320.5 172.7M1311.5 96.7L1329.5 96.7M1311.5 172.7L1329.5 172.7M1330.3 96.7L1330.3 172.7M1321.3 96.7L1339.3 96.7M1321.3 172.7L1339.3 172.7M1326.7 129.6L1326.7 205.6M1317.7 129.6L1335.7 129.6M1317.7 205.6L1335.7 205.6M1322.3 134.0L1322.3 210.0M1313.3 134.0L1331.3 134.0M1313.3 210.0L1331.3 210.0M1271.6 157.2L1271.6 233.2M1262.6 157.2L1280.6 157.2M1262.6 233.2L1280.6 233.2M1308.0 190.1L1308.0 266.1M1299.0 190.1L1317.0 190.1M1299.0 266.1L1317.0 266.1M1332.9 176.7L1332.9 252.7M1323.9 176.7L1341.9 176.7M1323.9 252.7L1341.9 252.7M1234.2 172.3L1234.2 248.3M1225.2 172.3L1243.2 172.3M1225.2 248.3L1243.2 248.3M1234.2 163.4L1234.2 239.4M1225.2 163.4L1243.2 163.4M1225.2 239.4L1243.2 239.4M1190.3 178.5L1190.3 254.5M1181.3 178.5L1199.3 178.5M1181.3 254.5L1199.3 254.5M1197.8 180.3L1197.8 256.3M1188.8 180.3L1206.8 180.3M1188.8 256.3L1206.8 256.3M1212.0 183.0L1212.0 259.0M1203.0 183.0L1221.0 183.0M1203.0 259.0L1221.0 259.0M1218.2 183.0L1218.2 259.0M1209.2 183.0L1227.2 183.0M1209.2 259.0L1227.2 259.0M1212.9 191.8L1212.9 267.8M1203.9 191.8L1221.9 191.8M1203.9 267.8L1221.9 267.8M1230.7 187.4L1230.7 263.4M1221.7 187.4L1239.7 187.4M1221.7 263.4L1239.7 263.4M1244.9 182.1L1244.9 258.1M1235.9 182.1L1253.9 182.1M1235.9 258.1L1253.9 258.1M1243.1 196.3L1243.1 272.3M1234.1 196.3L1252.1 196.3M1234.1 272.3L1252.1 272.3M1185.3 199.0L1185.3 275.0M1176.3 199.0L1194.3 199.0M1176.3 275.0L1194.3 275.0M1182.7 211.4L1182.7 287.4M1173.7 211.4L1191.7 211.4M1173.7 287.4L1191.7 287.4M1190.7 215.0L1190.7 291.0M1181.7 215.0L1199.7 215.0M1181.7 291.0L1199.7 291.0M1220.9 218.5L1220.9 294.5M1211.9 218.5L1229.9 218.5M1211.9 294.5L1229.9 294.5M1216.5 231.0L1216.5 307.0M1207.5 231.0L1225.5 231.0M1207.5 307.0L1225.5 307.0M1226.6 230.1L1226.6 306.1M1217.6 230.1L1235.6 230.1M1217.6 306.1L1235.6 306.1M1240.5 239.9L1240.5 315.9M1231.5 239.9L1249.5 239.9M1231.5 315.9L1249.5 315.9M1236.9 241.6L1236.9 317.6M1227.9 241.6L1245.9 241.6M1227.9 317.6L1245.9 317.6M1215.6 248.7L1215.6 324.7M1206.6 248.7L1224.6 248.7M1206.6 324.7L1224.6 324.7M1163.7 167.7L1163.7 243.7M1154.7 167.7L1172.7 167.7M1154.7 243.7L1172.7 243.7M1128.1 212.9L1128.1 288.9M1119.1 212.9L1137.1 212.9M1119.1 288.9L1137.1 288.9M1137.8 209.2L1137.8 285.2M1128.8 209.2L1146.8 209.2M1128.8 285.2L1146.8 285.2M1163.7 200.3L1163.7 276.3M1154.7 200.3L1172.7 200.3M1154.7 276.3L1172.7 276.3M1177.8 209.9L1177.8 285.9M1168.8 209.9L1186.8 209.9M1168.8 285.9L1186.8 285.9M1175.6 224.7L1175.6 300.7M1166.6 224.7L1184.6 224.7M1166.6 300.7L1184.6 300.7M1154.8 237.3L1154.8 313.3M1145.8 237.3L1163.8 237.3M1145.8 313.3L1163.8 313.3M1145.2 253.6L1145.2 329.6M1136.2 253.6L1154.2 253.6M1136.2 329.6L1154.2 329.6M1174.8 247.7L1174.8 323.7M1165.8 247.7L1183.8 247.7M1165.8 323.7L1183.8 323.7M1195.6 246.2L1195.6 322.2M1186.6 246.2L1204.6 246.2M1186.6 322.2L1204.6 322.2M1132.6 254.4L1132.6 330.4M1123.6 254.4L1141.6 254.4M1123.6 330.4L1141.6 330.4M1157.8 252.9L1157.8 328.9M1148.8 252.9L1166.8 252.9M1148.8 328.9L1166.8 328.9M1236.3 254.4L1236.3 330.4M1227.3 254.4L1245.3 254.4M1227.3 330.4L1245.3 330.4M1217.8 267.0L1217.8 343.0M1208.8 267.0L1226.8 267.0M1208.8 343.0L1226.8 343.0M1204.4 256.6L1204.4 332.6M1195.4 256.6L1213.4 256.6M1195.4 332.6L1213.4 332.6M1200.0 269.9L1200.0 345.9M1191.0 269.9L1209.0 269.9M1191.0 345.9L1209.0 345.9M1200.0 277.3L1200.0 353.3M1191.0 277.3L1209.0 277.3M1191.0 353.3L1209.0 353.3M1197.0 284.7L1197.0 360.7M1188.0 284.7L1206.0 284.7M1188.0 360.7L1206.0 360.7M1214.1 288.4L1214.1 364.4M1205.1 288.4L1223.1 288.4M1205.1 364.4L1223.1 364.4M1180.7 268.4L1180.7 344.4M1171.7 268.4L1189.7 268.4M1171.7 344.4L1189.7 344.4M1093.3 269.9L1093.3 345.9M1084.3 269.9L1102.3 269.9M1084.3 345.9L1102.3 345.9M1123.0 264.7L1123.0 340.7M1114.0 264.7L1132.0 264.7M1114.0 340.7L1132.0 340.7M1137.8 267.0L1137.8 343.0M1128.8 267.0L1146.8 267.0M1128.8 343.0L1146.8 343.0M1131.9 277.3L1131.9 353.3M1122.9 277.3L1140.9 277.3M1122.9 353.3L1140.9 353.3M1137.8 282.5L1137.8 358.5M1128.8 282.5L1146.8 282.5M1128.8 358.5L1146.8 358.5M1164.4 274.4L1164.4 350.4M1155.4 274.4L1173.4 274.4M1155.4 350.4L1173.4 350.4M1157.0 286.2L1157.0 362.2M1148.0 286.2L1166.0 286.2M1148.0 362.2L1166.0 362.2M1171.9 290.7L1171.9 366.7M1162.9 290.7L1180.9 290.7M1162.9 366.7L1180.9 366.7M1115.6 288.4L1115.6 364.4M1106.6 288.4L1124.6 288.4M1106.6 364.4L1124.6 364.4M1123.0 293.6L1123.0 369.6M1114.0 293.6L1132.0 293.6M1114.0 369.6L1132.0 369.6M1188.1 296.6L1188.1 372.6M1179.1 296.6L1197.1 296.6M1179.1 372.6L1197.1 372.6M1157.8 295.1L1157.8 371.1M1148.8 295.1L1166.8 295.1M1148.8 371.1L1166.8 371.1M1145.2 305.5L1145.2 381.5M1136.2 305.5L1154.2 305.5M1136.2 381.5L1154.2 381.5M1163.7 305.5L1163.7 381.5M1154.7 305.5L1172.7 305.5M1154.7 381.5L1172.7 381.5M1118.5 309.9L1118.5 385.9M1109.5 309.9L1127.5 309.9M1109.5 385.9L1127.5 385.9M1109.6 317.3L1109.6 393.3M1100.6 317.3L1118.6 317.3M1100.6 393.3L1118.6 393.3M1103.7 309.9L1103.7 385.9M1094.7 309.9L1112.7 309.9M1094.7 385.9L1112.7 385.9M1090.4 314.4L1090.4 390.4M1081.4 314.4L1099.4 314.4M1081.4 390.4L1099.4 390.4M1085.9 299.6L1085.9 375.6M1076.9 299.6L1094.9 299.6M1076.9 375.6L1094.9 375.6M1099.3 304.0L1099.3 380.0M1090.3 304.0L1108.3 304.0M1090.3 380.0L1108.3 380.0M1123.7 321.0L1123.7 397.0M1114.7 321.0L1132.7 321.0M1114.7 397.0L1132.7 397.0M1134.8 318.8L1134.8 394.8M1125.8 318.8L1143.8 318.8M1125.8 394.8L1143.8 394.8M1155.6 326.2L1155.6 402.2M1146.6 326.2L1164.6 326.2M1146.6 402.2L1164.6 402.2M1177.0 318.8L1177.0 394.8M1168.0 318.8L1186.0 318.8M1168.0 394.8L1186.0 394.8M1189.6 333.6L1189.6 409.6M1180.6 333.6L1198.6 333.6M1180.6 409.6L1198.6 409.6M1136.3 335.1L1136.3 411.1M1127.3 335.1L1145.3 335.1M1127.3 411.1L1145.3 411.1M1112.6 332.1L1112.6 408.1M1103.6 332.1L1121.6 332.1M1103.6 408.1L1121.6 408.1M993.3 309.2L993.3 385.2M984.3 309.2L1002.3 309.2M984.3 385.2L1002.3 385.2M1005.0 384.0L1005.0 460.0M996.0 384.0L1014.0 384.0M996.0 460.0L1014.0 460.0M1017.0 389.0L1017.0 465.0M1008.0 389.0L1026.0 389.0M1008.0 465.0L1026.0 465.0M1031.0 406.0L1031.0 482.0M1022.0 406.0L1040.0 406.0M1022.0 482.0L1040.0 482.0M1010.0 416.0L1010.0 492.0M1001.0 416.0L1019.0 416.0M1001.0 492.0L1019.0 492.0M1050.0 396.0L1050.0 472.0M1041.0 396.0L1059.0 396.0M1041.0 472.0L1059.0 472.0M1118.5 296.2L1118.5 372.2M1109.5 296.2L1127.5 296.2M1109.5 372.2L1127.5 372.2M1110.3 307.2L1110.3 383.2M1101.3 307.2L1119.3 307.2M1101.3 383.2L1119.3 383.2M1078.5 305.5L1078.5 381.5M1069.5 305.5L1087.5 305.5M1069.5 381.5L1087.5 381.5M1056.3 329.2L1056.3 405.2M1047.3 329.2L1065.3 329.2M1047.3 405.2L1065.3 405.2M1057.0 341.0L1057.0 417.0M1048.0 341.0L1066.0 341.0M1048.0 417.0L1066.0 417.0M1071.1 338.1L1071.1 414.1M1062.1 338.1L1080.1 338.1M1062.1 414.1L1080.1 414.1M1068.1 344.0L1068.1 420.0M1059.1 344.0L1077.1 344.0M1059.1 420.0L1077.1 420.0M1084.4 333.6L1084.4 409.6M1075.4 333.6L1093.4 333.6M1075.4 409.6L1093.4 409.6M1053.3 352.9L1053.3 428.9M1044.3 352.9L1062.3 352.9M1044.3 428.9L1062.3 428.9M1068.9 354.4L1068.9 430.4M1059.9 354.4L1077.9 354.4M1059.9 430.4L1077.9 430.4M1091.1 352.9L1091.1 428.9M1082.1 352.9L1100.1 352.9M1082.1 428.9L1100.1 428.9M1082.2 367.7L1082.2 443.7M1073.2 367.7L1091.2 367.7M1073.2 443.7L1091.2 443.7M1100.0 361.8L1100.0 437.8M1091.0 361.8L1109.0 361.8M1091.0 437.8L1109.0 437.8M1099.3 377.3L1099.3 453.3M1090.3 377.3L1108.3 377.3M1090.3 453.3L1108.3 453.3M1121.5 344.7L1121.5 420.7M1112.5 344.7L1130.5 344.7M1112.5 420.7L1130.5 420.7M1135.6 357.3L1135.6 433.3M1126.6 357.3L1144.6 357.3M1126.6 433.3L1144.6 433.3M1047.4 361.0L1047.4 437.0M1038.4 361.0L1056.4 361.0M1038.4 437.0L1056.4 437.0M1026.7 374.4L1026.7 450.4M1017.7 374.4L1035.7 374.4M1017.7 450.4L1035.7 450.4M1037.0 378.1L1037.0 454.1M1028.0 378.1L1046.0 378.1M1028.0 454.1L1046.0 454.1M1064.4 384.0L1064.4 460.0M1055.4 384.0L1073.4 384.0M1055.4 460.0L1073.4 460.0M1051.1 384.0L1051.1 460.0M1042.1 384.0L1060.1 384.0M1042.1 460.0L1060.1 460.0M1077.8 382.5L1077.8 458.5M1068.8 382.5L1086.8 382.5M1068.8 458.5L1086.8 458.5M1020.0 391.4L1020.0 467.4M1011.0 391.4L1029.0 391.4M1011.0 467.4L1029.0 467.4M997.8 395.1L997.8 471.1M988.8 395.1L1006.8 395.1M988.8 471.1L1006.8 471.1M984.4 387.7L984.4 463.7M975.4 387.7L993.4 387.7M975.4 463.7L993.4 463.7M1012.6 404.0L1012.6 480.0M1003.6 404.0L1021.6 404.0M1003.6 480.0L1021.6 480.0M1036.3 402.5L1036.3 478.5M1027.3 402.5L1045.3 402.5M1027.3 478.5L1045.3 478.5M1042.2 403.3L1042.2 479.3M1033.2 403.3L1051.2 403.3M1033.2 479.3L1051.2 479.3M1074.8 398.8L1074.8 474.8M1065.8 398.8L1083.8 398.8M1065.8 474.8L1083.8 474.8M1077.0 412.1L1077.0 488.1M1068.0 412.1L1086.0 412.1M1068.0 488.1L1086.0 488.1M1072.6 425.5L1072.6 501.5M1063.6 425.5L1081.6 425.5M1063.6 501.5L1081.6 501.5M1053.3 441.0L1053.3 517.0M1044.3 441.0L1062.3 441.0M1044.3 517.0L1062.3 517.0M1040.7 424.0L1040.7 500.0M1031.7 424.0L1049.7 424.0M1031.7 500.0L1049.7 500.0M1027.4 413.6L1027.4 489.6M1018.4 413.6L1036.4 413.6M1018.4 489.6L1036.4 489.6M994.8 409.9L994.8 485.9M985.8 409.9L1003.8 409.9M985.8 485.9L1003.8 485.9M991.9 422.5L991.9 498.5M982.9 422.5L1000.9 422.5M982.9 498.5L1000.9 498.5M977.0 421.8L977.0 497.8M968.0 421.8L986.0 421.8M968.0 497.8L986.0 497.8M987.4 428.4L987.4 504.4M978.4 428.4L996.4 428.4M978.4 504.4L996.4 504.4M1012.6 422.5L1012.6 498.5M1003.6 422.5L1021.6 422.5M1003.6 498.5L1021.6 498.5M1036.3 427.0L1036.3 503.0M1027.3 427.0L1045.3 427.0M1027.3 503.0L1045.3 503.0M957.8 441.8L957.8 517.8M948.8 441.8L966.8 441.8M948.8 517.8L966.8 517.8M969.6 422.5L969.6 498.5M960.6 422.5L978.6 422.5M960.6 498.5L978.6 498.5M948.9 458.1L948.9 534.1M939.9 458.1L957.9 458.1M939.9 534.1L957.9 534.1M987.4 456.6L987.4 532.6M978.4 456.6L996.4 456.6M978.4 532.6L996.4 532.6M984.4 446.2L984.4 522.2M975.4 446.2L993.4 446.2M975.4 522.2L993.4 522.2M1012.6 447.7L1012.6 523.7M1003.6 447.7L1021.6 447.7M1003.6 523.7L1021.6 523.7M999.3 441.8L999.3 517.8M990.3 441.8L1008.3 441.8M990.3 517.8L1008.3 517.8M974.1 437.3L974.1 513.3M965.1 437.3L983.1 437.3M965.1 513.3L983.1 513.3M925.6 462.5L925.6 538.5M916.6 462.5L934.6 462.5M916.6 538.5L934.6 538.5M948.9 484.7L948.9 560.7M939.9 484.7L957.9 484.7M939.9 560.7L957.9 560.7M952.6 499.6L952.6 575.6M943.6 499.6L961.6 499.6M943.6 575.6L961.6 575.6M965.2 476.6L965.2 552.6M956.2 476.6L974.2 476.6M956.2 552.6L974.2 552.6M977.0 469.2L977.0 545.2M968.0 469.2L986.0 469.2M968.0 545.2L986.0 545.2M1001.5 472.9L1001.5 548.9M992.5 472.9L1010.5 472.9M992.5 548.9L1010.5 548.9M982.2 437.3L982.2 513.3M973.2 437.3L991.2 437.3M973.2 513.3L991.2 513.3M973.3 431.4L973.3 507.4M964.3 431.4L982.3 431.4M964.3 507.4L982.3 507.4M1185.2 347.0L1185.2 423.0M1176.2 347.0L1194.2 347.0M1176.2 423.0L1194.2 423.0M1138.5 358.1L1138.5 434.1M1129.5 358.1L1147.5 358.1M1129.5 434.1L1147.5 434.1M974.8 420.0L974.8 496.0M965.8 420.0L983.8 420.0M965.8 496.0L983.8 496.0M984.4 409.5L984.4 485.5M975.4 409.5L993.4 409.5M975.4 485.5L993.4 485.5M1009.1 385.7L1009.1 461.7M1000.1 385.7L1018.1 385.7M1000.1 461.7L1018.1 461.7M1018.0 373.9L1018.0 449.9M1009.0 373.9L1027.0 373.9M1009.0 449.9L1027.0 449.9M1040.2 354.6L1040.2 430.6M1031.2 354.6L1049.2 354.6M1031.2 430.6L1049.2 430.6M1018.6 384.4L1018.6 460.4M1009.6 384.4L1027.6 384.4M1009.6 460.4L1027.6 460.4M1019.2 391.5L1019.2 467.5M1010.2 391.5L1028.2 391.5M1010.2 467.5L1028.2 467.5M1028.1 373.8L1028.1 449.8M1019.1 373.8L1037.1 373.8M1019.1 449.8L1037.1 449.8M1016.7 410.4L1016.7 486.4M1007.7 410.4L1025.7 410.4M1007.7 486.4L1025.7 486.4M992.0 422.3L992.0 498.3M983.0 422.3L1001.0 422.3M983.0 498.3L1001.0 498.3" stroke="#ABABAB" stroke-width="2" fill="none"/>
<line x1="849.8" y1="613.8" x2="1418.1" y2="45.6" stroke="#000" stroke-width="2.2" stroke-dasharray="26.2 9.1 3 9.2" stroke-dashoffset="1.2"/>
<path d="M1307.9 84.2L1318.4 65.7L1328.9 84.2Z" fill="#F9B4B8" stroke="#000" stroke-width="1.5" stroke-linejoin="miter"/>
<path d="M1279.8 110.8L1290.3 92.3L1300.8 110.8Z" fill="#F9B4B8" stroke="#000" stroke-width="1.5" stroke-linejoin="miter"/>
<path d="M1219.3 140.2L1229.8 121.7L1240.3 140.2Z" fill="#F5A47E" stroke="#000" stroke-width="1.5" stroke-linejoin="miter"/>
<path d="M1189.4 152.7L1199.9 134.2L1210.4 152.7Z" fill="#B48B2E" stroke="#000" stroke-width="1.5" stroke-linejoin="miter"/>
<path d="M1198.0 174.8L1208.5 156.3L1219.0 174.8Z" fill="#F9B4B8" stroke="#000" stroke-width="1.5" stroke-linejoin="miter"/>
<path d="M1273.5 161.6L1284.0 143.1L1294.5 161.6Z" fill="#DB9650" stroke="#000" stroke-width="1.5" stroke-linejoin="miter"/>
<path d="M1302.0 148.2L1312.5 129.7L1323.0 148.2Z" fill="#F5C8EE" stroke="#000" stroke-width="1.5" stroke-linejoin="miter"/>
<path d="M1310.0 141.9L1320.5 123.4L1331.0 141.9Z" fill="#F9B4B8" stroke="#000" stroke-width="1.5" stroke-linejoin="miter"/>
<path d="M1319.8 141.9L1330.3 123.4L1340.8 141.9Z" fill="#F9B4B8" stroke="#000" stroke-width="1.5" stroke-linejoin="miter"/>
<path d="M1316.2 174.8L1326.7 156.3L1337.2 174.8Z" fill="#F5C8EE" stroke="#000" stroke-width="1.5" stroke-linejoin="miter"/>
<path d="M1311.8 179.2L1322.3 160.8L1332.8 179.2Z" fill="#F9B4B8" stroke="#000" stroke-width="1.5" stroke-linejoin="miter"/>
<path d="M1261.1 202.4L1271.6 183.9L1282.1 202.4Z" fill="#F9B4B8" stroke="#000" stroke-width="1.5" stroke-linejoin="miter"/>
<path d="M1297.5 235.3L1308.0 216.8L1318.5 235.3Z" fill="#DB9650" stroke="#000" stroke-width="1.5" stroke-linejoin="miter"/>
<path d="M1322.4 221.9L1332.9 203.4L1343.4 221.9Z" fill="#DB9650" stroke="#000" stroke-width="1.5" stroke-linejoin="miter"/>
<path d="M1223.7 217.6L1234.2 199.1L1244.7 217.6Z" fill="#8C8332" stroke="#000" stroke-width="1.5" stroke-linejoin="miter"/>
<path d="M1223.7 208.7L1234.2 190.2L1244.7 208.7Z" fill="#DB9650" stroke="#000" stroke-width="1.5" stroke-linejoin="miter"/>
<path d="M1179.8 223.8L1190.3 205.2L1200.8 223.8Z" fill="#2C6A60" stroke="#000" stroke-width="1.5" stroke-linejoin="miter"/>
<path d="M1187.3 225.6L1197.8 207.1L1208.3 225.6Z" fill="#B48B2E" stroke="#000" stroke-width="1.5" stroke-linejoin="miter"/>
<path d="M1201.5 228.2L1212.0 209.8L1222.5 228.2Z" fill="#DB9650" stroke="#000" stroke-width="1.5" stroke-linejoin="miter"/>
<path d="M1207.7 228.2L1218.2 209.8L1228.7 228.2Z" fill="#DB9650" stroke="#000" stroke-width="1.5" stroke-linejoin="miter"/>
<path d="M1202.4 237.1L1212.9 218.6L1223.4 237.1Z" fill="#F9B4B8" stroke="#000" stroke-width="1.5" stroke-linejoin="miter"/>
<path d="M1220.2 232.7L1230.7 214.2L1241.2 232.7Z" fill="#F5C8EE" stroke="#000" stroke-width="1.5" stroke-linejoin="miter"/>
<path d="M1234.4 227.3L1244.9 208.8L1255.4 227.3Z" fill="#F9B4B8" stroke="#000" stroke-width="1.5" stroke-linejoin="miter"/>
<path d="M1232.6 223.1L1243.1 241.6L1253.6 223.1Z" fill="#8C8332" stroke="#000" stroke-width="1.5"/>
<path d="M1174.8 244.2L1185.3 225.8L1195.8 244.2Z" fill="#8C8332" stroke="#000" stroke-width="1.5" stroke-linejoin="miter"/>
<path d="M1172.2 256.6L1182.7 238.2L1193.2 256.6Z" fill="#1F5C66" stroke="#000" stroke-width="1.5" stroke-linejoin="miter"/>
<path d="M1180.2 260.2L1190.7 241.8L1201.2 260.2Z" fill="#B48B2E" stroke="#000" stroke-width="1.5" stroke-linejoin="miter"/>
<path d="M1210.4 263.8L1220.9 245.2L1231.4 263.8Z" fill="#DB9650" stroke="#000" stroke-width="1.5" stroke-linejoin="miter"/>
<path d="M1216.5 256.5L1224.5 267.0L1216.5 277.5L1208.5 267.0Z" fill="#F5A47E" stroke="#000" stroke-width="1.5"/>
<circle cx="1226.6" cy="266.1" r="9.4" fill="#F5A47E" stroke="#000" stroke-width="1.5"/>
<path d="M1230.0 285.1L1240.5 266.6L1251.0 285.1Z" fill="#547751" stroke="#000" stroke-width="1.5" stroke-linejoin="miter"/>
<path d="M1236.9 267.1L1244.9 277.6L1236.9 288.1L1228.9 277.6Z" fill="#F5A47E" stroke="#000" stroke-width="1.5"/>
<circle cx="1215.6" cy="284.7" r="9.4" fill="#F5A47E" stroke="#000" stroke-width="1.5"/>
<path d="M1153.2 212.9L1163.7 194.4L1174.2 212.9Z" fill="#8C8332" stroke="#000" stroke-width="1.5" stroke-linejoin="miter"/>
<path d="M1117.6 258.1L1128.1 239.7L1138.6 258.1Z" fill="#1F5C66" stroke="#000" stroke-width="1.5" stroke-linejoin="miter"/>
<path d="M1127.3 254.4L1137.8 235.9L1148.3 254.4Z" fill="#1F5C66" stroke="#000" stroke-width="1.5" stroke-linejoin="miter"/>
<path d="M1153.2 245.6L1163.7 227.1L1174.2 245.6Z" fill="#547751" stroke="#000" stroke-width="1.5" stroke-linejoin="miter"/>
<path d="M1167.3 255.2L1177.8 236.7L1188.3 255.2Z" fill="#2C6A60" stroke="#000" stroke-width="1.5" stroke-linejoin="miter"/>
<circle cx="1175.6" cy="260.7" r="9.4" fill="#F5A47E" stroke="#000" stroke-width="1.5"/>
<path d="M1144.3 264.1L1154.8 282.6L1165.3 264.1Z" fill="#8C8332" stroke="#000" stroke-width="1.5"/>
<path d="M1134.7 298.9L1145.2 280.4L1155.7 298.9Z" fill="#0A2660" stroke="#000" stroke-width="1.5" stroke-linejoin="miter"/>
<circle cx="1174.8" cy="283.7" r="9.4" fill="#F5A47E" stroke="#000" stroke-width="1.5"/>
<circle cx="1195.6" cy="282.2" r="9.4" fill="#F5A47E" stroke="#000" stroke-width="1.5"/>
<circle cx="1132.6" cy="290.4" r="9.4" fill="#F5A47E" stroke="#000" stroke-width="1.5"/>
<circle cx="1157.8" cy="288.9" r="9.4" fill="#F5A47E" stroke="#000" stroke-width="1.5"/>
<path d="M1225.8 299.6L1236.3 281.1L1246.8 299.6Z" fill="#B48B2E" stroke="#000" stroke-width="1.5" stroke-linejoin="miter"/>
<path d="M1207.3 312.2L1217.8 293.8L1228.3 312.2Z" fill="#1F5C66" stroke="#000" stroke-width="1.5" stroke-linejoin="miter"/>
<path d="M1193.9 301.9L1204.4 283.4L1214.9 301.9Z" fill="#F9B4B8" stroke="#000" stroke-width="1.5" stroke-linejoin="miter"/>
<path d="M1189.5 315.1L1200.0 296.6L1210.5 315.1Z" fill="#8C8332" stroke="#000" stroke-width="1.5" stroke-linejoin="miter"/>
<path d="M1189.5 322.6L1200.0 304.1L1210.5 322.6Z" fill="#B48B2E" stroke="#000" stroke-width="1.5" stroke-linejoin="miter"/>
<path d="M1186.5 329.9L1197.0 311.4L1207.5 329.9Z" fill="#DB9650" stroke="#000" stroke-width="1.5" stroke-linejoin="miter"/>
<path d="M1203.6 333.6L1214.1 315.1L1224.6 333.6Z" fill="#DB9650" stroke="#000" stroke-width="1.5" stroke-linejoin="miter"/>
<path d="M1170.2 313.6L1180.7 295.1L1191.2 313.6Z" fill="#1F5C66" stroke="#000" stroke-width="1.5" stroke-linejoin="miter"/>
<path d="M1082.8 315.1L1093.3 296.6L1103.8 315.1Z" fill="#B48B2E" stroke="#000" stroke-width="1.5" stroke-linejoin="miter"/>
<path d="M1112.5 309.9L1123.0 291.4L1133.5 309.9Z" fill="#8C8332" stroke="#000" stroke-width="1.5" stroke-linejoin="miter"/>
<path d="M1127.3 312.2L1137.8 293.8L1148.3 312.2Z" fill="#8C8332" stroke="#000" stroke-width="1.5" stroke-linejoin="miter"/>
<path d="M1131.9 305.3L1133.9 310.5L1139.5 310.8L1135.1 314.4L1136.6 319.8L1131.9 316.7L1127.2 319.8L1128.7 314.4L1124.3 310.8L1129.9 310.5Z" fill="#DB9650" stroke="#000" stroke-width="1.5"/>
<path d="M1127.3 327.8L1137.8 309.2L1148.3 327.8Z" fill="#174A6A" stroke="#000" stroke-width="1.5" stroke-linejoin="miter"/>
<path d="M1164.4 299.9L1172.4 310.4L1164.4 320.9L1156.4 310.4Z" fill="#F5A47E" stroke="#000" stroke-width="1.5"/>
<path d="M1146.5 331.4L1157.0 312.9L1167.5 331.4Z" fill="#B48B2E" stroke="#000" stroke-width="1.5" stroke-linejoin="miter"/>
<path d="M1171.9 316.2L1179.9 326.7L1171.9 337.2L1163.9 326.7Z" fill="#DB9650" stroke="#000" stroke-width="1.5"/>
<path d="M1105.1 333.6L1115.6 315.1L1126.1 333.6Z" fill="#DB9650" stroke="#000" stroke-width="1.5" stroke-linejoin="miter"/>
<path d="M1123.0 319.1L1131.0 329.6L1123.0 340.1L1115.0 329.6Z" fill="#B48B2E" stroke="#000" stroke-width="1.5"/>
<path d="M1177.6 341.9L1188.1 323.4L1198.6 341.9Z" fill="#547751" stroke="#000" stroke-width="1.5" stroke-linejoin="miter"/>
<path d="M1147.3 340.4L1157.8 321.9L1168.3 340.4Z" fill="#B48B2E" stroke="#000" stroke-width="1.5" stroke-linejoin="miter"/>
<circle cx="1145.2" cy="341.5" r="9.4" fill="#B48B2E" stroke="#000" stroke-width="1.5"/>
<path d="M1163.7 331.0L1171.7 341.5L1163.7 352.0L1155.7 341.5Z" fill="#F5A47E" stroke="#000" stroke-width="1.5"/>
<path d="M1118.5 335.4L1126.5 345.9L1118.5 356.4L1110.5 345.9Z" fill="#F5A47E" stroke="#000" stroke-width="1.5"/>
<path d="M1109.6 342.8L1117.6 353.3L1109.6 363.8L1101.6 353.3Z" fill="#DB9650" stroke="#000" stroke-width="1.5"/>
<path d="M1103.7 335.4L1111.7 345.9L1103.7 356.4L1095.7 345.9Z" fill="#F5A47E" stroke="#000" stroke-width="1.5"/>
<path d="M1090.4 339.9L1098.4 350.4L1090.4 360.9L1082.4 350.4Z" fill="#DB9650" stroke="#000" stroke-width="1.5"/>
<path d="M1075.4 344.9L1085.9 326.4L1096.4 344.9Z" fill="#DB9650" stroke="#000" stroke-width="1.5" stroke-linejoin="miter"/>
<path d="M1088.8 349.2L1099.3 330.8L1109.8 349.2Z" fill="#1F5C66" stroke="#000" stroke-width="1.5" stroke-linejoin="miter"/>
<path d="M1123.7 349.0L1125.7 354.2L1131.3 354.5L1126.9 358.1L1128.4 363.5L1123.7 360.4L1119.0 363.5L1120.5 358.1L1116.1 354.5L1121.7 354.2Z" fill="#8C8332" stroke="#000" stroke-width="1.5"/>
<path d="M1124.3 364.1L1134.8 345.6L1145.3 364.1Z" fill="#6A7B42" stroke="#000" stroke-width="1.5" stroke-linejoin="miter"/>
<path d="M1145.1 371.4L1155.6 352.9L1166.1 371.4Z" fill="#B48B2E" stroke="#000" stroke-width="1.5" stroke-linejoin="miter"/>
<path d="M1166.5 364.1L1177.0 345.6L1187.5 364.1Z" fill="#6A7B42" stroke="#000" stroke-width="1.5" stroke-linejoin="miter"/>
<path d="M1179.1 378.9L1189.6 360.4L1200.1 378.9Z" fill="#6A7B42" stroke="#000" stroke-width="1.5" stroke-linejoin="miter"/>
<path d="M1125.8 380.4L1136.3 361.9L1146.8 380.4Z" fill="#6A7B42" stroke="#000" stroke-width="1.5" stroke-linejoin="miter"/>
<path d="M1112.6 357.6L1120.6 368.1L1112.6 378.6L1104.6 368.1Z" fill="#DB9650" stroke="#000" stroke-width="1.5"/>
<path d="M982.8 354.4L993.3 335.9L1003.8 354.4Z" fill="#DB9650" stroke="#000" stroke-width="1.5" stroke-linejoin="miter"/>
<circle cx="1005.0" cy="420.0" r="9.4" fill="#B48B2E" stroke="#000" stroke-width="1.5"/>
<circle cx="1017.0" cy="425.0" r="9.4" fill="#DB9650" stroke="#000" stroke-width="1.5"/>
<circle cx="1031.0" cy="442.0" r="9.4" fill="#B48B2E" stroke="#000" stroke-width="1.5"/>
<circle cx="1010.0" cy="452.0" r="9.4" fill="#8C8332" stroke="#000" stroke-width="1.5"/>
<circle cx="1050.0" cy="432.0" r="9.4" fill="#6A7B42" stroke="#000" stroke-width="1.5"/>
<path d="M1118.5 321.7L1126.5 332.2L1118.5 342.7L1110.5 332.2Z" fill="#F5A47E" stroke="#000" stroke-width="1.5"/>
<path d="M1110.3 332.7L1118.3 343.2L1110.3 353.7L1102.3 343.2Z" fill="#F5A47E" stroke="#000" stroke-width="1.5"/>
<path d="M1068.0 350.8L1078.5 332.2L1089.0 350.8Z" fill="#8C8332" stroke="#000" stroke-width="1.5" stroke-linejoin="miter"/>
<path d="M1045.8 374.4L1056.3 355.9L1066.8 374.4Z" fill="#6A7B42" stroke="#000" stroke-width="1.5" stroke-linejoin="miter"/>
<rect x="1051.0" y="371.0" width="12" height="12" fill="#8C8332" stroke="#000" stroke-width="1.5"/>
<rect x="1065.1" y="368.1" width="12" height="12" fill="#DB9650" stroke="#000" stroke-width="1.5"/>
<rect x="1062.1" y="374.0" width="12" height="12" fill="#DB9650" stroke="#000" stroke-width="1.5"/>
<rect x="1078.4" y="363.6" width="12" height="12" fill="#DB9650" stroke="#000" stroke-width="1.5"/>
<rect x="1047.3" y="382.9" width="12" height="12" fill="#B48B2E" stroke="#000" stroke-width="1.5"/>
<path d="M1068.9 382.4L1070.9 387.6L1076.5 387.9L1072.1 391.5L1073.6 396.9L1068.9 393.8L1064.2 396.9L1065.7 391.5L1061.3 387.9L1066.9 387.6Z" fill="#8C8332" stroke="#000" stroke-width="1.5"/>
<path d="M1091.1 378.4L1099.1 388.9L1091.1 399.4L1083.1 388.9Z" fill="#DB9650" stroke="#000" stroke-width="1.5"/>
<path d="M1082.2 393.2L1090.2 403.7L1082.2 414.2L1074.2 403.7Z" fill="#B48B2E" stroke="#000" stroke-width="1.5"/>
<path d="M1089.5 407.1L1100.0 388.6L1110.5 407.1Z" fill="#547751" stroke="#000" stroke-width="1.5" stroke-linejoin="miter"/>
<circle cx="1099.3" cy="413.3" r="9.4" fill="#B48B2E" stroke="#000" stroke-width="1.5"/>
<path d="M1111.0 389.9L1121.5 371.4L1132.0 389.9Z" fill="#2C6A60" stroke="#000" stroke-width="1.5" stroke-linejoin="miter"/>
<path d="M1125.1 402.6L1135.6 384.1L1146.1 402.6Z" fill="#8C8332" stroke="#000" stroke-width="1.5" stroke-linejoin="miter"/>
<circle cx="1047.4" cy="397.0" r="9.4" fill="#8C8332" stroke="#000" stroke-width="1.5"/>
<circle cx="1026.7" cy="410.4" r="9.4" fill="#DB9650" stroke="#000" stroke-width="1.5"/>
<circle cx="1037.0" cy="414.1" r="9.4" fill="#8C8332" stroke="#000" stroke-width="1.5"/>
<circle cx="1064.4" cy="420.0" r="9.4" fill="#6A7B42" stroke="#000" stroke-width="1.5"/>
<circle cx="1051.1" cy="420.0" r="9.4" fill="#6A7B42" stroke="#000" stroke-width="1.5"/>
<path d="M1067.3 427.8L1077.8 409.2L1088.3 427.8Z" fill="#6A7B42" stroke="#000" stroke-width="1.5" stroke-linejoin="miter"/>
<circle cx="1020.0" cy="427.4" r="9.4" fill="#CC9140" stroke="#000" stroke-width="1.5"/>
<circle cx="997.8" cy="431.1" r="9.4" fill="#CC9140" stroke="#000" stroke-width="1.5"/>
<path d="M973.9 432.9L984.4 414.4L994.9 432.9Z" fill="#B48B2E" stroke="#000" stroke-width="1.5" stroke-linejoin="miter"/>
<circle cx="1012.6" cy="440.0" r="9.4" fill="#6A7B42" stroke="#000" stroke-width="1.5"/>
<circle cx="1036.3" cy="438.5" r="9.4" fill="#B48B2E" stroke="#000" stroke-width="1.5"/>
<circle cx="1042.2" cy="439.3" r="9.4" fill="#B48B2E" stroke="#000" stroke-width="1.5"/>
<circle cx="1074.8" cy="434.8" r="9.4" fill="#8C8332" stroke="#000" stroke-width="1.5"/>
<circle cx="1077.0" cy="448.1" r="9.4" fill="#8C8332" stroke="#000" stroke-width="1.5"/>
<circle cx="1072.6" cy="461.5" r="9.4" fill="#6A7B42" stroke="#000" stroke-width="1.5"/>
<circle cx="1053.3" cy="477.0" r="9.4" fill="#6A7B42" stroke="#000" stroke-width="1.5"/>
<circle cx="1040.7" cy="460.0" r="9.4" fill="#8C8332" stroke="#000" stroke-width="1.5"/>
<circle cx="1027.4" cy="449.6" r="9.4" fill="#8C8332" stroke="#000" stroke-width="1.5"/>
<circle cx="994.8" cy="445.9" r="9.4" fill="#B48B2E" stroke="#000" stroke-width="1.5"/>
<circle cx="991.9" cy="458.5" r="9.4" fill="#6A7B42" stroke="#000" stroke-width="1.5"/>
<circle cx="977.0" cy="457.8" r="9.4" fill="#6A7B42" stroke="#000" stroke-width="1.5"/>
<circle cx="987.4" cy="464.4" r="9.4" fill="#B48B2E" stroke="#000" stroke-width="1.5"/>
<path d="M1002.1 467.8L1012.6 449.2L1023.1 467.8Z" fill="#6A7B42" stroke="#000" stroke-width="1.5" stroke-linejoin="miter"/>
<path d="M1025.8 472.2L1036.3 453.8L1046.8 472.2Z" fill="#6A7B42" stroke="#000" stroke-width="1.5" stroke-linejoin="miter"/>
<path d="M947.3 487.1L957.8 468.6L968.3 487.1Z" fill="#B48B2E" stroke="#000" stroke-width="1.5" stroke-linejoin="miter"/>
<path d="M959.1 467.8L969.6 449.2L980.1 467.8Z" fill="#8C8332" stroke="#000" stroke-width="1.5" stroke-linejoin="miter"/>
<circle cx="948.9" cy="494.1" r="9.4" fill="#6A7B42" stroke="#000" stroke-width="1.5"/>
<circle cx="987.4" cy="492.6" r="9.4" fill="#8C8332" stroke="#000" stroke-width="1.5"/>
<path d="M973.9 491.4L984.4 472.9L994.9 491.4Z" fill="#2C6A60" stroke="#000" stroke-width="1.5" stroke-linejoin="miter"/>
<path d="M1002.1 492.9L1012.6 474.4L1023.1 492.9Z" fill="#8C8332" stroke="#000" stroke-width="1.5" stroke-linejoin="miter"/>
<path d="M988.8 487.1L999.3 468.6L1009.8 487.1Z" fill="#1F5C66" stroke="#000" stroke-width="1.5" stroke-linejoin="miter"/>
<path d="M963.6 482.6L974.1 464.1L984.6 482.6Z" fill="#547751" stroke="#000" stroke-width="1.5" stroke-linejoin="miter"/>
<path d="M915.1 507.8L925.6 489.2L936.1 507.8Z" fill="#8C8332" stroke="#000" stroke-width="1.5" stroke-linejoin="miter"/>
<circle cx="948.9" cy="520.7" r="9.4" fill="#6A7B42" stroke="#000" stroke-width="1.5"/>
<circle cx="952.6" cy="535.6" r="9.4" fill="#547751" stroke="#000" stroke-width="1.5"/>
<circle cx="965.2" cy="512.6" r="9.4" fill="#6A7B42" stroke="#000" stroke-width="1.5"/>
<circle cx="977.0" cy="505.2" r="9.4" fill="#6A7B42" stroke="#000" stroke-width="1.5"/>
<path d="M991.0 518.1L1001.5 499.6L1012.0 518.1Z" fill="#547751" stroke="#000" stroke-width="1.5" stroke-linejoin="miter"/>
<path d="M971.7 482.6L982.2 464.1L992.7 482.6Z" fill="#2C6A60" stroke="#000" stroke-width="1.5" stroke-linejoin="miter"/>
<path d="M962.8 476.6L973.3 458.1L983.8 476.6Z" fill="#8C8332" stroke="#000" stroke-width="1.5" stroke-linejoin="miter"/>
<path d="M1174.7 392.2L1185.2 373.8L1195.7 392.2Z" fill="#6A7B42" stroke="#000" stroke-width="1.5" stroke-linejoin="miter"/>
<path d="M1128.0 403.4L1138.5 384.9L1149.0 403.4Z" fill="#8C8332" stroke="#000" stroke-width="1.5" stroke-linejoin="miter"/>
<path d="M964.3 465.3L974.8 446.8L985.3 465.3Z" fill="#8C8332" stroke="#000" stroke-width="1.5" stroke-linejoin="miter"/>
<path d="M973.9 454.7L984.4 436.2L994.9 454.7Z" fill="#8C8332" stroke="#000" stroke-width="1.5" stroke-linejoin="miter"/>
<path d="M1009.1 411.2L1017.1 421.7L1009.1 432.2L1001.1 421.7Z" fill="#DB9650" stroke="#000" stroke-width="1.5"/>
<path d="M1007.5 419.2L1018.0 400.7L1028.5 419.2Z" fill="#8C8332" stroke="#000" stroke-width="1.5" stroke-linejoin="miter"/>
<path d="M1029.7 399.9L1040.2 381.4L1050.7 399.9Z" fill="#8C8332" stroke="#000" stroke-width="1.5" stroke-linejoin="miter"/>
<circle cx="1018.6" cy="420.4" r="9.4" fill="#B48B2E" stroke="#000" stroke-width="1.5"/>
<circle cx="1019.2" cy="427.5" r="9.4" fill="#B48B2E" stroke="#000" stroke-width="1.5"/>
<circle cx="1028.1" cy="409.8" r="9.4" fill="#DB9650" stroke="#000" stroke-width="1.5"/>
<circle cx="1016.7" cy="446.4" r="9.4" fill="#B48B2E" stroke="#000" stroke-width="1.5"/>
<circle cx="992.0" cy="458.3" r="9.4" fill="#6A7B42" stroke="#000" stroke-width="1.5"/>
<line x1="849.8" y1="619.7" x2="1418.1" y2="40.0" stroke="#000" stroke-width="7.4" stroke-dasharray="23.8 23.7" stroke-dashoffset="-7.0"/>
<rect x="1165.2" y="268.9" width="29.5" height="29.5" fill="none" stroke="#000" stroke-width="6.5"/>
</g>
<g clip-path="url(#clipC)">
<line x1="141" y1="1119.3" x2="709.3" y2="1119.3" stroke="#000" stroke-width="1.8" stroke-dasharray="2.8 8.9"/>
<path d="M426.5 619.1L437.0 600.6L447.5 619.1Z" fill="#0A2660" stroke="#000" stroke-width="1.5" stroke-linejoin="miter"/>
<path d="M408.3 607.1L418.8 588.6L429.3 607.1Z" fill="#1F5C66" stroke="#000" stroke-width="1.5" stroke-linejoin="miter"/>
<path d="M419.9 666.3L430.4 647.8L440.9 666.3Z" fill="#1F5C66" stroke="#000" stroke-width="1.5" stroke-linejoin="miter"/>
<path d="M471.0 844.2L481.5 825.7L492.0 844.2Z" fill="#2C6A60" stroke="#000" stroke-width="1.5" stroke-linejoin="miter"/>
<path d="M480.6 976.1L491.1 957.6L501.6 976.1Z" fill="#CC9140" stroke="#000" stroke-width="1.5" stroke-linejoin="miter"/>
<path d="M458.1 921.1L468.6 902.6L479.1 921.1Z" fill="#174A6A" stroke="#000" stroke-width="1.5" stroke-linejoin="miter"/>
<path d="M458.1 903.2L468.6 884.7L479.1 903.2Z" fill="#2C6A60" stroke="#000" stroke-width="1.5" stroke-linejoin="miter"/>
<path d="M444.3 947.5L454.8 929.0L465.3 947.5Z" fill="#8C8332" stroke="#000" stroke-width="1.5" stroke-linejoin="miter"/>
<path d="M442.8 936.5L453.3 918.0L463.8 936.5Z" fill="#547751" stroke="#000" stroke-width="1.5" stroke-linejoin="miter"/>
<path d="M446.5 972.6L457.0 954.1L467.5 972.6Z" fill="#2C6A60" stroke="#000" stroke-width="1.5" stroke-linejoin="miter"/>
<path d="M465.1 1015.9L475.6 997.4L486.1 1015.9Z" fill="#174A6A" stroke="#000" stroke-width="1.5" stroke-linejoin="miter"/>
<path d="M461.5 988.2L472.0 969.7L482.5 988.2Z" fill="#2C6A60" stroke="#000" stroke-width="1.5" stroke-linejoin="miter"/>
<path d="M469.5 1019.4L480.0 1000.9L490.5 1019.4Z" fill="#1F5C66" stroke="#000" stroke-width="1.5" stroke-linejoin="miter"/>
<path d="M479.5 1019.6L490.0 1001.1L500.5 1019.6Z" fill="#2C6A60" stroke="#000" stroke-width="1.5" stroke-linejoin="miter"/>
<path d="M459.5 1013.1L470.0 994.6L480.5 1013.1Z" fill="#174A6A" stroke="#000" stroke-width="1.5" stroke-linejoin="miter"/>
<path d="M419.1 933.9L429.6 915.4L440.1 933.9Z" fill="#174A6A" stroke="#000" stroke-width="1.5" stroke-linejoin="miter"/>
<path d="M447.7 1007.1L458.2 988.6L468.7 1007.1Z" fill="#2C6A60" stroke="#000" stroke-width="1.5" stroke-linejoin="miter"/>
<path d="M498.1 1101.6L508.6 1083.1L519.1 1101.6Z" fill="#1F5C66" stroke="#000" stroke-width="1.5" stroke-linejoin="miter"/>
<path d="M462.5 1062.5L473.0 1044.0L483.5 1062.5Z" fill="#8C8332" stroke="#000" stroke-width="1.5" stroke-linejoin="miter"/>
<path d="M453.2 1058.9L463.7 1040.4L474.2 1058.9Z" fill="#1F5C66" stroke="#000" stroke-width="1.5" stroke-linejoin="miter"/>
<path d="M477.9 1093.6L488.4 1075.1L498.9 1093.6Z" fill="#B48B2E" stroke="#000" stroke-width="1.5" stroke-linejoin="miter"/>
<path d="M492.5 1114.8L503.0 1096.3L513.5 1114.8Z" fill="#F9B4B8" stroke="#000" stroke-width="1.5" stroke-linejoin="miter"/>
<path d="M509.9 1071.2L520.4 1052.7L530.9 1071.2Z" fill="#F5A47E" stroke="#000" stroke-width="1.5" stroke-linejoin="miter"/>
<path d="M517.6 1086.2L528.1 1067.7L538.6 1086.2Z" fill="#8C8332" stroke="#000" stroke-width="1.5" stroke-linejoin="miter"/>
<path d="M524.5 1130.5L535.0 1112.0L545.5 1130.5Z" fill="#547751" stroke="#000" stroke-width="1.5" stroke-linejoin="miter"/>
<path d="M519.5 1139.8L530.0 1121.3L540.5 1139.8Z" fill="#DB9650" stroke="#000" stroke-width="1.5" stroke-linejoin="miter"/>
<path d="M525.1 1124.1L535.6 1142.6L546.1 1124.1Z" fill="#8C8332" stroke="#000" stroke-width="1.5"/>
<path d="M563.5 1137.8L574.0 1119.3L584.5 1137.8Z" fill="#DB9650" stroke="#000" stroke-width="1.5" stroke-linejoin="miter"/>
<path d="M571.2 1132.0L581.7 1113.5L592.2 1132.0Z" fill="#F9B4B8" stroke="#000" stroke-width="1.5" stroke-linejoin="miter"/>
<path d="M598.9 1132.9L609.4 1114.4L619.9 1132.9Z" fill="#F9B4B8" stroke="#000" stroke-width="1.5" stroke-linejoin="miter"/>
<path d="M600.7 1173.3L611.2 1154.8L621.7 1173.3Z" fill="#F9B4B8" stroke="#000" stroke-width="1.5" stroke-linejoin="miter"/>
<path d="M610.3 1177.6L620.8 1159.1L631.3 1177.6Z" fill="#F9B4B8" stroke="#000" stroke-width="1.5" stroke-linejoin="miter"/>
<path d="M587.5 1181.7L598.0 1163.2L608.5 1181.7Z" fill="#DB9650" stroke="#000" stroke-width="1.5" stroke-linejoin="miter"/>
<path d="M592.8 1182.0L603.3 1163.5L613.8 1182.0Z" fill="#F5C8EE" stroke="#000" stroke-width="1.5" stroke-linejoin="miter"/>
<path d="M608.4 1189.0L618.9 1170.5L629.4 1189.0Z" fill="#F5C8EE" stroke="#000" stroke-width="1.5" stroke-linejoin="miter"/>
<path d="M602.5 1188.1L613.0 1169.6L623.5 1188.1Z" fill="#F9B4B8" stroke="#000" stroke-width="1.5" stroke-linejoin="miter"/>
<path d="M613.5 1188.4L624.0 1169.9L634.5 1188.4Z" fill="#DB9650" stroke="#000" stroke-width="1.5" stroke-linejoin="miter"/>
<path d="M379.9 967.1L390.4 948.6L400.9 967.1Z" fill="#1F5C66" stroke="#000" stroke-width="1.5" stroke-linejoin="miter"/>
<path d="M551.4 1176.3L561.9 1157.8L572.4 1176.3Z" fill="#F9B4B8" stroke="#000" stroke-width="1.5" stroke-linejoin="miter"/>
<path d="M525.1 1169.5L535.6 1151.0L546.1 1169.5Z" fill="#F9B4B8" stroke="#000" stroke-width="1.5" stroke-linejoin="miter"/>
<path d="M428.8 1077.4L439.3 1058.9L449.8 1077.4Z" fill="#1F5C66" stroke="#000" stroke-width="1.5" stroke-linejoin="miter"/>
<path d="M436.2 1092.7L446.7 1074.2L457.2 1092.7Z" fill="#2C6A60" stroke="#000" stroke-width="1.5" stroke-linejoin="miter"/>
<path d="M437.6 1081.5L448.1 1100.0L458.6 1081.5Z" fill="#B48B2E" stroke="#000" stroke-width="1.5"/>
<path d="M453.2 1119.1L463.7 1100.6L474.2 1119.1Z" fill="#B48B2E" stroke="#000" stroke-width="1.5" stroke-linejoin="miter"/>
<path d="M468.0 1120.6L478.5 1102.1L489.0 1120.6Z" fill="#B48B2E" stroke="#000" stroke-width="1.5" stroke-linejoin="miter"/>
<path d="M493.9 1157.6L504.4 1139.1L514.9 1157.6Z" fill="#F9B4B8" stroke="#000" stroke-width="1.5" stroke-linejoin="miter"/>
<path d="M499.9 1160.3L510.4 1141.8L520.9 1160.3Z" fill="#DB9650" stroke="#000" stroke-width="1.5" stroke-linejoin="miter"/>
<path d="M468.0 1140.5L478.5 1122.0L489.0 1140.5Z" fill="#547751" stroke="#000" stroke-width="1.5" stroke-linejoin="miter"/>
<path d="M481.4 1157.2L491.9 1138.7L502.4 1157.2Z" fill="#8C8332" stroke="#000" stroke-width="1.5" stroke-linejoin="miter"/>
<path d="M496.9 1132.5L507.4 1114.0L517.9 1132.5Z" fill="#DB9650" stroke="#000" stroke-width="1.5" stroke-linejoin="miter"/>
<path d="M488.0 1124.3L498.5 1105.8L509.0 1124.3Z" fill="#DB9650" stroke="#000" stroke-width="1.5" stroke-linejoin="miter"/>
<path d="M453.2 1068.4L463.7 1049.9L474.2 1068.4Z" fill="#1F5C66" stroke="#000" stroke-width="1.5" stroke-linejoin="miter"/>
<path d="M476.2 1100.2L486.7 1081.7L497.2 1100.2Z" fill="#B48B2E" stroke="#000" stroke-width="1.5" stroke-linejoin="miter"/>
<path d="M492.5 1118.4L503.0 1099.9L513.5 1118.4Z" fill="#F9B4B8" stroke="#000" stroke-width="1.5" stroke-linejoin="miter"/>
<path d="M405.1 1069.6L415.6 1051.1L426.1 1069.6Z" fill="#8C8332" stroke="#000" stroke-width="1.5" stroke-linejoin="miter"/>
<path d="M417.6 1097.3L428.1 1078.8L438.6 1097.3Z" fill="#8C8332" stroke="#000" stroke-width="1.5" stroke-linejoin="miter"/>
<path d="M376.2 1040.8L386.7 1022.3L397.2 1040.8Z" fill="#1F5C66" stroke="#000" stroke-width="1.5" stroke-linejoin="miter"/>
<path d="M393.9 1078.3L404.4 1059.8L414.9 1078.3Z" fill="#547751" stroke="#000" stroke-width="1.5" stroke-linejoin="miter"/>
<path d="M375.4 1068.4L385.9 1049.9L396.4 1068.4Z" fill="#B48B2E" stroke="#000" stroke-width="1.5" stroke-linejoin="miter"/>
<path d="M404.3 1103.6L414.8 1085.1L425.3 1103.6Z" fill="#8C8332" stroke="#000" stroke-width="1.5" stroke-linejoin="miter"/>
<path d="M419.1 1117.6L429.6 1099.1L440.1 1117.6Z" fill="#8C8332" stroke="#000" stroke-width="1.5" stroke-linejoin="miter"/>
<path d="M429.5 1135.0L440.0 1116.5L450.5 1135.0Z" fill="#8C8332" stroke="#000" stroke-width="1.5" stroke-linejoin="miter"/>
<path d="M436.9 1123.5L447.4 1105.0L457.9 1123.5Z" fill="#8C8332" stroke="#000" stroke-width="1.5" stroke-linejoin="miter"/>
<path d="M428.8 1120.0L439.3 1101.5L449.8 1120.0Z" fill="#6A7B42" stroke="#000" stroke-width="1.5" stroke-linejoin="miter"/>
<path d="M428.8 1133.1L439.3 1114.6L449.8 1133.1Z" fill="#8C8332" stroke="#000" stroke-width="1.5" stroke-linejoin="miter"/>
<path d="M464.2 1152.3L472.2 1162.8L464.2 1173.3L456.2 1162.8Z" fill="#F5A47E" stroke="#000" stroke-width="1.5"/>
<path d="M465.1 1171.1L475.6 1152.6L486.1 1171.1Z" fill="#6A7B42" stroke="#000" stroke-width="1.5" stroke-linejoin="miter"/>
<path d="M471.4 1175.3L481.9 1156.8L492.4 1175.3Z" fill="#6A7B42" stroke="#000" stroke-width="1.5" stroke-linejoin="miter"/>
<path d="M481.7 1179.9L492.2 1161.4L502.7 1179.9Z" fill="#DB9650" stroke="#000" stroke-width="1.5" stroke-linejoin="miter"/>
<path d="M494.3 1157.2L502.3 1167.7L494.3 1178.2L486.3 1167.7Z" fill="#F5A47E" stroke="#000" stroke-width="1.5"/>
<path d="M485.9 1179.9L496.4 1161.4L506.9 1179.9Z" fill="#F5A47E" stroke="#000" stroke-width="1.5" stroke-linejoin="miter"/>
<path d="M512.9 1183.6L523.4 1165.1L533.9 1183.6Z" fill="#F9B4B8" stroke="#000" stroke-width="1.5" stroke-linejoin="miter"/>
<path d="M450.6 1143.4L461.1 1124.9L471.6 1143.4Z" fill="#DB9650" stroke="#000" stroke-width="1.5" stroke-linejoin="miter"/>
<path d="M425.7 1141.8L436.2 1123.3L446.7 1141.8Z" fill="#6A7B42" stroke="#000" stroke-width="1.5" stroke-linejoin="miter"/>
<circle cx="466.7" cy="1130.1" r="9.4" fill="#F5A47E" stroke="#000" stroke-width="1.5"/>
<path d="M466.5 1155.3L477.0 1136.8L487.5 1155.3Z" fill="#DB9650" stroke="#000" stroke-width="1.5" stroke-linejoin="miter"/>
<path d="M480.6 1163.7L491.1 1145.2L501.6 1163.7Z" fill="#8C8332" stroke="#000" stroke-width="1.5" stroke-linejoin="miter"/>
<path d="M513.2 1174.5L523.7 1156.0L534.2 1174.5Z" fill="#F5C8EE" stroke="#000" stroke-width="1.5" stroke-linejoin="miter"/>
<path d="M519.1 1177.0L529.6 1158.5L540.1 1177.0Z" fill="#B48B2E" stroke="#000" stroke-width="1.5" stroke-linejoin="miter"/>
<circle cx="517.8" cy="1165.9" r="9.4" fill="#F5A47E" stroke="#000" stroke-width="1.5"/>
<path d="M528.1 1162.4L536.1 1172.9L528.1 1183.4L520.1 1172.9Z" fill="#DB9650" stroke="#000" stroke-width="1.5"/>
<path d="M520.7 1162.4L528.7 1172.9L520.7 1183.4L512.7 1172.9Z" fill="#F5A47E" stroke="#000" stroke-width="1.5"/>
<circle cx="506.7" cy="1166.6" r="9.4" fill="#F5A47E" stroke="#000" stroke-width="1.5"/>
<circle cx="449.6" cy="1139.6" r="9.4" fill="#F5A47E" stroke="#000" stroke-width="1.5"/>
<circle cx="463.7" cy="1146.1" r="9.4" fill="#F5A47E" stroke="#000" stroke-width="1.5"/>
<circle cx="487.4" cy="1160.5" r="9.4" fill="#F5A47E" stroke="#000" stroke-width="1.5"/>
<circle cx="423.0" cy="1116.5" r="9.4" fill="#F5A47E" stroke="#000" stroke-width="1.5"/>
<path d="M468.9 1145.5L476.9 1156.0L468.9 1166.5L460.9 1156.0Z" fill="#F9B4B8" stroke="#000" stroke-width="1.5"/>
<path d="M465.8 1180.0L476.3 1161.5L486.8 1180.0Z" fill="#6A7B42" stroke="#000" stroke-width="1.5" stroke-linejoin="miter"/>
<path d="M454.1 1149.3L462.1 1159.8L454.1 1170.3L446.1 1159.8Z" fill="#F5A47E" stroke="#000" stroke-width="1.5"/>
<path d="M494.7 1185.9L505.2 1167.4L515.7 1185.9Z" fill="#DB9650" stroke="#000" stroke-width="1.5" stroke-linejoin="miter"/>
<circle cx="436.3" cy="1142.6" r="9.4" fill="#B48B2E" stroke="#000" stroke-width="1.5"/>
<path d="M396.9 1117.6L407.4 1099.1L417.9 1117.6Z" fill="#B48B2E" stroke="#000" stroke-width="1.5" stroke-linejoin="miter"/>
<path d="M396.2 1116.9L406.7 1098.4L417.2 1116.9Z" fill="#8C8332" stroke="#000" stroke-width="1.5" stroke-linejoin="miter"/>
<path d="M382.2 1109.3L390.2 1119.8L382.2 1130.3L374.2 1119.8Z" fill="#DB9650" stroke="#000" stroke-width="1.5"/>
<path d="M405.9 1120.8L413.9 1131.3L405.9 1141.8L397.9 1131.3Z" fill="#DB9650" stroke="#000" stroke-width="1.5"/>
<path d="M400.7 1126.9L408.7 1137.4L400.7 1147.9L392.7 1137.4Z" fill="#DB9650" stroke="#000" stroke-width="1.5"/>
<path d="M411.9 1136.1L419.9 1146.6L411.9 1157.1L403.9 1146.6Z" fill="#F5A47E" stroke="#000" stroke-width="1.5"/>
<path d="M413.9 1157.6L424.4 1139.1L434.9 1157.6Z" fill="#F5A47E" stroke="#000" stroke-width="1.5" stroke-linejoin="miter"/>
<path d="M419.1 1169.8L429.6 1151.3L440.1 1169.8Z" fill="#8C8332" stroke="#000" stroke-width="1.5" stroke-linejoin="miter"/>
<path d="M400.7 1139.2L408.7 1149.7L400.7 1160.2L392.7 1149.7Z" fill="#F5A47E" stroke="#000" stroke-width="1.5"/>
<path d="M384.4 1135.0L392.4 1145.5L384.4 1156.0L376.4 1145.5Z" fill="#DB9650" stroke="#000" stroke-width="1.5"/>
<circle cx="390.4" cy="1158.3" r="9.4" fill="#B48B2E" stroke="#000" stroke-width="1.5"/>
<circle cx="388.9" cy="1132.5" r="9.4" fill="#DB9650" stroke="#000" stroke-width="1.5"/>
<path d="M372.5 1108.8L383.0 1090.3L393.5 1108.8Z" fill="#B48B2E" stroke="#000" stroke-width="1.5" stroke-linejoin="miter"/>
<path d="M273.6 947.8L284.1 929.3L294.6 947.8Z" fill="#DB9650" stroke="#000" stroke-width="1.5" stroke-linejoin="miter"/>
<path d="M296.5 1003.7L307.0 985.2L317.5 1003.7Z" fill="#1F5C66" stroke="#000" stroke-width="1.5" stroke-linejoin="miter"/>
<path d="M352.1 1003.7L362.6 985.2L373.1 1003.7Z" fill="#174A6A" stroke="#000" stroke-width="1.5" stroke-linejoin="miter"/>
<path d="M353.6 1034.6L364.1 1016.1L374.6 1034.6Z" fill="#1F5C66" stroke="#000" stroke-width="1.5" stroke-linejoin="miter"/>
<path d="M335.8 1003.7L346.3 985.2L356.8 1003.7Z" fill="#174A6A" stroke="#000" stroke-width="1.5" stroke-linejoin="miter"/>
<path d="M335.8 1024.3L346.3 1005.8L356.8 1024.3Z" fill="#2C6A60" stroke="#000" stroke-width="1.5" stroke-linejoin="miter"/>
<path d="M336.5 1041.3L347.0 1022.8L357.5 1041.3Z" fill="#6A7B42" stroke="#000" stroke-width="1.5" stroke-linejoin="miter"/>
<path d="M358.8 1054.6L369.3 1036.1L379.8 1054.6Z" fill="#8C8332" stroke="#000" stroke-width="1.5" stroke-linejoin="miter"/>
<path d="M361.7 1087.2L372.2 1068.7L382.7 1087.2Z" fill="#6A7B42" stroke="#000" stroke-width="1.5" stroke-linejoin="miter"/>
<rect x="342.5" y="1065.8" width="12" height="12" fill="#8C8332" stroke="#000" stroke-width="1.5"/>
<path d="M361.9 1087.8L363.9 1093.1L369.5 1093.3L365.1 1096.9L366.6 1102.3L361.9 1099.2L357.2 1102.3L358.7 1096.9L354.3 1093.3L359.9 1093.1Z" fill="#8C8332" stroke="#000" stroke-width="1.5"/>
<path d="M371.9 1103.4L373.9 1108.7L379.5 1108.9L375.1 1112.5L376.6 1117.9L371.9 1114.8L367.2 1117.9L368.7 1112.5L364.3 1108.9L369.9 1108.7Z" fill="#8C8332" stroke="#000" stroke-width="1.5"/>
<circle cx="372.2" cy="1099.1" r="9.4" fill="#6A7B42" stroke="#000" stroke-width="1.5"/>
<path d="M320.2 1077.7L330.7 1059.2L341.2 1077.7Z" fill="#8C8332" stroke="#000" stroke-width="1.5" stroke-linejoin="miter"/>
<path d="M293.5 1071.2L304.0 1052.7L314.5 1071.2Z" fill="#8C8332" stroke="#000" stroke-width="1.5" stroke-linejoin="miter"/>
<circle cx="338.1" cy="1090.3" r="9.4" fill="#8C8332" stroke="#000" stroke-width="1.5"/>
<circle cx="313.0" cy="1059.8" r="9.4" fill="#547751" stroke="#000" stroke-width="1.5"/>
<rect x="357.3" y="1112.8" width="12" height="12" fill="#DB9650" stroke="#000" stroke-width="1.5"/>
<rect x="369.2" y="1121.4" width="12" height="12" fill="#DB9650" stroke="#000" stroke-width="1.5"/>
<circle cx="327.8" cy="1095.7" r="9.4" fill="#8C8332" stroke="#000" stroke-width="1.5"/>
<path d="M272.1 1034.6L282.6 1016.1L293.1 1034.6Z" fill="#547751" stroke="#000" stroke-width="1.5" stroke-linejoin="miter"/>
<path d="M277.3 1059.6L287.8 1041.1L298.3 1059.6Z" fill="#1F5C66" stroke="#000" stroke-width="1.5" stroke-linejoin="miter"/>
<circle cx="304.1" cy="1079.0" r="9.4" fill="#6A7B42" stroke="#000" stroke-width="1.5"/>
<path d="M349.1 1137.8L359.6 1119.3L370.1 1137.8Z" fill="#F5A47E" stroke="#000" stroke-width="1.5" stroke-linejoin="miter"/>
<path d="M373.7 1133.9L381.7 1144.4L373.7 1154.9L365.7 1144.4Z" fill="#DB9650" stroke="#000" stroke-width="1.5"/>
<path d="M382.6 1133.9L390.6 1144.4L382.6 1154.9L374.6 1144.4Z" fill="#DB9650" stroke="#000" stroke-width="1.5"/>
<circle cx="350.0" cy="1129.2" r="9.4" fill="#B48B2E" stroke="#000" stroke-width="1.5"/>
<circle cx="332.2" cy="1114.7" r="9.4" fill="#B48B2E" stroke="#000" stroke-width="1.5"/>
<circle cx="332.2" cy="1122.9" r="9.4" fill="#B48B2E" stroke="#000" stroke-width="1.5"/>
<path d="M264.7 1055.8L275.2 1037.3L285.7 1055.8Z" fill="#8C8332" stroke="#000" stroke-width="1.5" stroke-linejoin="miter"/>
<circle cx="268.5" cy="1057.4" r="9.4" fill="#6A7B42" stroke="#000" stroke-width="1.5"/>
<circle cx="283.3" cy="1077.0" r="9.4" fill="#6A7B42" stroke="#000" stroke-width="1.5"/>
<circle cx="310.0" cy="1104.0" r="9.4" fill="#B48B2E" stroke="#000" stroke-width="1.5"/>
<circle cx="364.1" cy="1149.1" r="9.4" fill="#547751" stroke="#000" stroke-width="1.5"/>
<rect x="347.0" y="1136.4" width="12" height="12" fill="#DB9650" stroke="#000" stroke-width="1.5"/>
<path d="M205.9 1113.8L216.4 1095.3L226.9 1113.8Z" fill="#8C8332" stroke="#000" stroke-width="1.5" stroke-linejoin="miter"/>
<circle cx="239.6" cy="1073.9" r="9.4" fill="#547751" stroke="#000" stroke-width="1.5"/>
<path d="M237.3 1113.4L247.8 1094.9L258.3 1113.4Z" fill="#6A7B42" stroke="#000" stroke-width="1.5" stroke-linejoin="miter"/>
<path d="M235.8 1143.7L246.3 1125.2L256.8 1143.7Z" fill="#8C8332" stroke="#000" stroke-width="1.5" stroke-linejoin="miter"/>
<circle cx="244.1" cy="1129.8" r="9.4" fill="#547751" stroke="#000" stroke-width="1.5"/>
<circle cx="239.6" cy="1117.4" r="9.4" fill="#6A7B42" stroke="#000" stroke-width="1.5"/>
<circle cx="255.9" cy="1129.2" r="9.4" fill="#6A7B42" stroke="#000" stroke-width="1.5"/>
<path d="M265.1 1158.6L275.6 1140.1L286.1 1158.6Z" fill="#8C8332" stroke="#000" stroke-width="1.5" stroke-linejoin="miter"/>
<path d="M281.7 1155.0L292.2 1136.5L302.7 1155.0Z" fill="#8C8332" stroke="#000" stroke-width="1.5" stroke-linejoin="miter"/>
<path d="M291.4 1157.4L301.9 1138.9L312.4 1157.4Z" fill="#8C8332" stroke="#000" stroke-width="1.5" stroke-linejoin="miter"/>
<circle cx="266.3" cy="1121.6" r="9.4" fill="#547751" stroke="#000" stroke-width="1.5"/>
<circle cx="278.9" cy="1136.1" r="9.4" fill="#6A7B42" stroke="#000" stroke-width="1.5"/>
<circle cx="280.4" cy="1123.6" r="9.4" fill="#B48B2E" stroke="#000" stroke-width="1.5"/>
<path d="M255.1 1088.2L265.6 1069.7L276.1 1088.2Z" fill="#8C8332" stroke="#000" stroke-width="1.5" stroke-linejoin="miter"/>
<path d="M257.3 1104.9L267.8 1086.4L278.3 1104.9Z" fill="#8C8332" stroke="#000" stroke-width="1.5" stroke-linejoin="miter"/>
<path d="M289.1 1112.5L299.6 1094.0L310.1 1112.5Z" fill="#6A7B42" stroke="#000" stroke-width="1.5" stroke-linejoin="miter"/>
<path d="M336.5 1153.1L347.0 1134.6L357.5 1153.1Z" fill="#B48B2E" stroke="#000" stroke-width="1.5" stroke-linejoin="miter"/>
<circle cx="284.8" cy="1106.4" r="9.4" fill="#B48B2E" stroke="#000" stroke-width="1.5"/>
<circle cx="287.8" cy="1122.3" r="9.4" fill="#B48B2E" stroke="#000" stroke-width="1.5"/>
<circle cx="308.5" cy="1135.6" r="9.4" fill="#B48B2E" stroke="#000" stroke-width="1.5"/>
<circle cx="315.9" cy="1132.1" r="9.4" fill="#B48B2E" stroke="#000" stroke-width="1.5"/>
<circle cx="326.3" cy="1141.4" r="9.4" fill="#B48B2E" stroke="#000" stroke-width="1.5"/>
<circle cx="330.7" cy="1153.8" r="9.4" fill="#8C8332" stroke="#000" stroke-width="1.5"/>
<circle cx="344.8" cy="1157.8" r="9.4" fill="#6A7B42" stroke="#000" stroke-width="1.5"/>
<circle cx="351.5" cy="1154.2" r="9.4" fill="#DB9650" stroke="#000" stroke-width="1.5"/>
<circle cx="367.8" cy="1161.1" r="9.4" fill="#8C8332" stroke="#000" stroke-width="1.5"/>
<circle cx="332.2" cy="1140.9" r="9.4" fill="#B48B2E" stroke="#000" stroke-width="1.5"/>
<circle cx="330.7" cy="1129.7" r="9.4" fill="#B48B2E" stroke="#000" stroke-width="1.5"/>
<line x1="141" y1="961.2" x2="709.3" y2="961.2" stroke="#A6A6A6" stroke-width="5.9" stroke-dasharray="23.7 23.6"/>
<line x1="141" y1="1106.4" x2="709.3" y2="1106.4" stroke="#000" stroke-width="6.7" stroke-dasharray="23.7 23.6"/>
<rect x="457.9" y="974.8" width="29.5" height="29.5" fill="none" stroke="#000" stroke-width="6.5"/>
<rect x="455.6" y="1141.3" width="29.5" height="29.5" fill="none" stroke="#000" stroke-width="6.5"/>
</g>
<g clip-path="url(#clipD)">
<line x1="849.8" y1="1118.9" x2="1418.1" y2="1118.9" stroke="#000" stroke-width="1.8" stroke-dasharray="2.8 8.9"/>
<path d="M1307.9 1032.5L1318.4 1014.0L1328.9 1032.5Z" fill="#F9B4B8" stroke="#000" stroke-width="1.5" stroke-linejoin="miter"/>
<path d="M1279.8 1029.7L1290.3 1011.2L1300.8 1029.7Z" fill="#F9B4B8" stroke="#000" stroke-width="1.5" stroke-linejoin="miter"/>
<path d="M1219.3 957.2L1229.8 938.7L1240.3 957.2Z" fill="#F5A47E" stroke="#000" stroke-width="1.5" stroke-linejoin="miter"/>
<path d="M1189.4 905.2L1199.9 886.7L1210.4 905.2Z" fill="#B48B2E" stroke="#000" stroke-width="1.5" stroke-linejoin="miter"/>
<path d="M1198.0 991.3L1208.5 972.8L1219.0 991.3Z" fill="#F9B4B8" stroke="#000" stroke-width="1.5" stroke-linejoin="miter"/>
<path d="M1273.5 1099.3L1284.0 1080.8L1294.5 1099.3Z" fill="#DB9650" stroke="#000" stroke-width="1.5" stroke-linejoin="miter"/>
<path d="M1302.0 1116.5L1312.5 1098.0L1323.0 1116.5Z" fill="#F5C8EE" stroke="#000" stroke-width="1.5" stroke-linejoin="miter"/>
<path d="M1310.0 1118.3L1320.5 1099.8L1331.0 1118.3Z" fill="#F9B4B8" stroke="#000" stroke-width="1.5" stroke-linejoin="miter"/>
<path d="M1319.8 1127.9L1330.3 1109.4L1340.8 1127.9Z" fill="#F9B4B8" stroke="#000" stroke-width="1.5" stroke-linejoin="miter"/>
<path d="M1316.2 1151.3L1326.7 1132.8L1337.2 1151.3Z" fill="#F5C8EE" stroke="#000" stroke-width="1.5" stroke-linejoin="miter"/>
<path d="M1311.8 1151.3L1322.3 1132.8L1332.8 1151.3Z" fill="#F9B4B8" stroke="#000" stroke-width="1.5" stroke-linejoin="miter"/>
<path d="M1261.1 1129.5L1271.6 1111.0L1282.1 1129.5Z" fill="#F9B4B8" stroke="#000" stroke-width="1.5" stroke-linejoin="miter"/>
<path d="M1297.5 1174.3L1308.0 1155.8L1318.5 1174.3Z" fill="#DB9650" stroke="#000" stroke-width="1.5" stroke-linejoin="miter"/>
<path d="M1322.4 1179.0L1332.9 1160.5L1343.4 1179.0Z" fill="#DB9650" stroke="#000" stroke-width="1.5" stroke-linejoin="miter"/>
<path d="M1223.7 1106.7L1234.2 1088.2L1244.7 1106.7Z" fill="#8C8332" stroke="#000" stroke-width="1.5" stroke-linejoin="miter"/>
<path d="M1223.7 1095.9L1234.2 1077.4L1244.7 1095.9Z" fill="#DB9650" stroke="#000" stroke-width="1.5" stroke-linejoin="miter"/>
<path d="M1179.8 1053.4L1190.3 1034.9L1200.8 1053.4Z" fill="#2C6A60" stroke="#000" stroke-width="1.5" stroke-linejoin="miter"/>
<path d="M1187.3 1068.6L1197.8 1050.1L1208.3 1068.6Z" fill="#B48B2E" stroke="#000" stroke-width="1.5" stroke-linejoin="miter"/>
<path d="M1201.5 1092.6L1212.0 1074.1L1222.5 1092.6Z" fill="#DB9650" stroke="#000" stroke-width="1.5" stroke-linejoin="miter"/>
<path d="M1207.7 1100.4L1218.2 1081.9L1228.7 1100.4Z" fill="#DB9650" stroke="#000" stroke-width="1.5" stroke-linejoin="miter"/>
<path d="M1202.4 1104.6L1212.9 1086.1L1223.4 1104.6Z" fill="#F9B4B8" stroke="#000" stroke-width="1.5" stroke-linejoin="miter"/>
<path d="M1220.2 1119.2L1230.7 1100.7L1241.2 1119.2Z" fill="#F5C8EE" stroke="#000" stroke-width="1.5" stroke-linejoin="miter"/>
<path d="M1234.4 1127.9L1244.9 1109.4L1255.4 1127.9Z" fill="#F9B4B8" stroke="#000" stroke-width="1.5" stroke-linejoin="miter"/>
<path d="M1232.6 1120.2L1243.1 1138.7L1253.6 1120.2Z" fill="#8C8332" stroke="#000" stroke-width="1.5"/>
<path d="M1174.8 1077.9L1185.3 1059.4L1195.8 1077.9Z" fill="#8C8332" stroke="#000" stroke-width="1.5" stroke-linejoin="miter"/>
<path d="M1172.2 1091.4L1182.7 1072.9L1193.2 1091.4Z" fill="#1F5C66" stroke="#000" stroke-width="1.5" stroke-linejoin="miter"/>
<path d="M1180.2 1105.8L1190.7 1087.3L1201.2 1105.8Z" fill="#B48B2E" stroke="#000" stroke-width="1.5" stroke-linejoin="miter"/>
<path d="M1210.4 1138.7L1220.9 1120.2L1231.4 1138.7Z" fill="#DB9650" stroke="#000" stroke-width="1.5" stroke-linejoin="miter"/>
<path d="M1216.5 1125.2L1224.5 1135.7L1216.5 1146.2L1208.5 1135.7Z" fill="#F5A47E" stroke="#000" stroke-width="1.5"/>
<circle cx="1226.6" cy="1142.3" r="9.4" fill="#F5A47E" stroke="#000" stroke-width="1.5"/>
<path d="M1230.0 1165.8L1240.5 1147.3L1251.0 1165.8Z" fill="#547751" stroke="#000" stroke-width="1.5" stroke-linejoin="miter"/>
<path d="M1236.9 1145.0L1244.9 1155.5L1236.9 1166.0L1228.9 1155.5Z" fill="#F5A47E" stroke="#000" stroke-width="1.5"/>
<circle cx="1215.6" cy="1147.2" r="9.4" fill="#F5A47E" stroke="#000" stroke-width="1.5"/>
<path d="M1153.2 974.9L1163.7 956.4L1174.2 974.9Z" fill="#8C8332" stroke="#000" stroke-width="1.5" stroke-linejoin="miter"/>
<path d="M1117.6 998.1L1128.1 979.6L1138.6 998.1Z" fill="#1F5C66" stroke="#000" stroke-width="1.5" stroke-linejoin="miter"/>
<path d="M1127.3 1011.4L1137.8 992.9L1148.3 1011.4Z" fill="#1F5C66" stroke="#000" stroke-width="1.5" stroke-linejoin="miter"/>
<path d="M1153.2 1045.0L1163.7 1026.5L1174.2 1045.0Z" fill="#547751" stroke="#000" stroke-width="1.5" stroke-linejoin="miter"/>
<path d="M1167.3 1082.7L1177.8 1064.2L1188.3 1082.7Z" fill="#2C6A60" stroke="#000" stroke-width="1.5" stroke-linejoin="miter"/>
<circle cx="1175.6" cy="1090.1" r="9.4" fill="#F5A47E" stroke="#000" stroke-width="1.5"/>
<path d="M1144.3 1070.3L1154.8 1088.8L1165.3 1070.3Z" fill="#8C8332" stroke="#000" stroke-width="1.5"/>
<path d="M1134.7 1097.4L1145.2 1078.9L1155.7 1097.4Z" fill="#0A2660" stroke="#000" stroke-width="1.5" stroke-linejoin="miter"/>
<circle cx="1174.8" cy="1114.4" r="9.4" fill="#F5A47E" stroke="#000" stroke-width="1.5"/>
<circle cx="1195.6" cy="1131.4" r="9.4" fill="#F5A47E" stroke="#000" stroke-width="1.5"/>
<circle cx="1132.6" cy="1072.5" r="9.4" fill="#F5A47E" stroke="#000" stroke-width="1.5"/>
<circle cx="1157.8" cy="1102.2" r="9.4" fill="#F5A47E" stroke="#000" stroke-width="1.5"/>
<path d="M1225.8 1170.9L1236.3 1152.4L1246.8 1170.9Z" fill="#B48B2E" stroke="#000" stroke-width="1.5" stroke-linejoin="miter"/>
<path d="M1207.3 1168.0L1217.8 1149.5L1228.3 1168.0Z" fill="#1F5C66" stroke="#000" stroke-width="1.5" stroke-linejoin="miter"/>
<path d="M1193.9 1154.4L1204.4 1135.9L1214.9 1154.4Z" fill="#F9B4B8" stroke="#000" stroke-width="1.5" stroke-linejoin="miter"/>
<path d="M1189.5 1159.9L1200.0 1141.4L1210.5 1159.9Z" fill="#8C8332" stroke="#000" stroke-width="1.5" stroke-linejoin="miter"/>
<path d="M1189.5 1164.1L1200.0 1145.6L1210.5 1164.1Z" fill="#B48B2E" stroke="#000" stroke-width="1.5" stroke-linejoin="miter"/>
<path d="M1186.5 1166.4L1197.0 1147.9L1207.5 1166.4Z" fill="#DB9650" stroke="#000" stroke-width="1.5" stroke-linejoin="miter"/>
<path d="M1203.6 1176.2L1214.1 1157.7L1224.6 1176.2Z" fill="#DB9650" stroke="#000" stroke-width="1.5" stroke-linejoin="miter"/>
<path d="M1170.2 1146.2L1180.7 1127.7L1191.2 1146.2Z" fill="#1F5C66" stroke="#000" stroke-width="1.5" stroke-linejoin="miter"/>
<path d="M1082.8 1043.5L1093.3 1025.0L1103.8 1043.5Z" fill="#B48B2E" stroke="#000" stroke-width="1.5" stroke-linejoin="miter"/>
<path d="M1112.5 1082.7L1123.0 1064.2L1133.5 1082.7Z" fill="#8C8332" stroke="#000" stroke-width="1.5" stroke-linejoin="miter"/>
<path d="M1127.3 1104.7L1137.8 1086.2L1148.3 1104.7Z" fill="#8C8332" stroke="#000" stroke-width="1.5" stroke-linejoin="miter"/>
<path d="M1131.9 1092.5L1133.9 1097.7L1139.5 1098.0L1135.1 1101.5L1136.6 1107.0L1131.9 1103.9L1127.2 1107.0L1128.7 1101.5L1124.3 1098.0L1129.9 1097.7Z" fill="#DB9650" stroke="#000" stroke-width="1.5"/>
<path d="M1127.3 1121.5L1137.8 1103.0L1148.3 1121.5Z" fill="#174A6A" stroke="#000" stroke-width="1.5" stroke-linejoin="miter"/>
<path d="M1164.4 1118.4L1172.4 1128.9L1164.4 1139.4L1156.4 1128.9Z" fill="#F5A47E" stroke="#000" stroke-width="1.5"/>
<path d="M1146.5 1141.7L1157.0 1123.2L1167.5 1141.7Z" fill="#B48B2E" stroke="#000" stroke-width="1.5" stroke-linejoin="miter"/>
<path d="M1171.9 1135.7L1179.9 1146.2L1171.9 1156.7L1163.9 1146.2Z" fill="#DB9650" stroke="#000" stroke-width="1.5"/>
<path d="M1105.1 1103.8L1115.6 1085.3L1126.1 1103.8Z" fill="#DB9650" stroke="#000" stroke-width="1.5" stroke-linejoin="miter"/>
<path d="M1123.0 1098.0L1131.0 1108.5L1123.0 1119.0L1115.0 1108.5Z" fill="#B48B2E" stroke="#000" stroke-width="1.5"/>
<path d="M1177.6 1168.0L1188.1 1149.5L1198.6 1168.0Z" fill="#547751" stroke="#000" stroke-width="1.5" stroke-linejoin="miter"/>
<path d="M1147.3 1148.9L1157.8 1130.4L1168.3 1148.9Z" fill="#B48B2E" stroke="#000" stroke-width="1.5" stroke-linejoin="miter"/>
<circle cx="1145.2" cy="1138.1" r="9.4" fill="#B48B2E" stroke="#000" stroke-width="1.5"/>
<path d="M1163.7 1139.7L1171.7 1150.2L1163.7 1160.7L1155.7 1150.2Z" fill="#F5A47E" stroke="#000" stroke-width="1.5"/>
<path d="M1118.5 1109.4L1126.5 1119.9L1118.5 1130.4L1110.5 1119.9Z" fill="#F5A47E" stroke="#000" stroke-width="1.5"/>
<path d="M1109.6 1108.1L1117.6 1118.6L1109.6 1129.1L1101.6 1118.6Z" fill="#DB9650" stroke="#000" stroke-width="1.5"/>
<path d="M1103.7 1094.8L1111.7 1105.3L1103.7 1115.8L1095.7 1105.3Z" fill="#F5A47E" stroke="#000" stroke-width="1.5"/>
<path d="M1090.4 1085.0L1098.4 1095.5L1090.4 1106.0L1082.4 1095.5Z" fill="#DB9650" stroke="#000" stroke-width="1.5"/>
<path d="M1075.4 1079.6L1085.9 1061.1L1096.4 1079.6Z" fill="#DB9650" stroke="#000" stroke-width="1.5" stroke-linejoin="miter"/>
<path d="M1088.8 1102.9L1099.3 1084.4L1109.8 1102.9Z" fill="#1F5C66" stroke="#000" stroke-width="1.5" stroke-linejoin="miter"/>
<path d="M1123.7 1125.6L1125.7 1130.9L1131.3 1131.1L1126.9 1134.7L1128.4 1140.1L1123.7 1137.0L1119.0 1140.1L1120.5 1134.7L1116.1 1131.1L1121.7 1130.9Z" fill="#8C8332" stroke="#000" stroke-width="1.5"/>
<path d="M1124.3 1149.4L1134.8 1130.9L1145.3 1149.4Z" fill="#6A7B42" stroke="#000" stroke-width="1.5" stroke-linejoin="miter"/>
<path d="M1145.1 1166.5L1155.6 1148.0L1166.1 1166.5Z" fill="#B48B2E" stroke="#000" stroke-width="1.5" stroke-linejoin="miter"/>
<path d="M1166.5 1173.3L1177.0 1154.8L1187.5 1173.3Z" fill="#6A7B42" stroke="#000" stroke-width="1.5" stroke-linejoin="miter"/>
<path d="M1179.1 1184.0L1189.6 1165.5L1200.1 1184.0Z" fill="#6A7B42" stroke="#000" stroke-width="1.5" stroke-linejoin="miter"/>
<path d="M1125.8 1160.8L1136.3 1142.3L1146.8 1160.8Z" fill="#6A7B42" stroke="#000" stroke-width="1.5" stroke-linejoin="miter"/>
<path d="M1112.6 1123.1L1120.6 1133.6L1112.6 1144.1L1104.6 1133.6Z" fill="#DB9650" stroke="#000" stroke-width="1.5"/>
<path d="M982.8 889.0L993.3 870.5L1003.8 889.0Z" fill="#DB9650" stroke="#000" stroke-width="1.5" stroke-linejoin="miter"/>
<circle cx="1005.0" cy="1075.3" r="9.4" fill="#B48B2E" stroke="#000" stroke-width="1.5"/>
<circle cx="1017.0" cy="1096.8" r="9.4" fill="#DB9650" stroke="#000" stroke-width="1.5"/>
<circle cx="1031.0" cy="1127.4" r="9.4" fill="#B48B2E" stroke="#000" stroke-width="1.5"/>
<circle cx="1010.0" cy="1117.7" r="9.4" fill="#8C8332" stroke="#000" stroke-width="1.5"/>
<circle cx="1050.0" cy="1134.6" r="9.4" fill="#6A7B42" stroke="#000" stroke-width="1.5"/>
<path d="M1118.5 1096.0L1126.5 1106.5L1118.5 1117.0L1110.5 1106.5Z" fill="#F5A47E" stroke="#000" stroke-width="1.5"/>
<path d="M1110.3 1098.9L1118.3 1109.4L1110.3 1119.9L1102.3 1109.4Z" fill="#F5A47E" stroke="#000" stroke-width="1.5"/>
<path d="M1068.0 1077.4L1078.5 1058.9L1089.0 1077.4Z" fill="#8C8332" stroke="#000" stroke-width="1.5" stroke-linejoin="miter"/>
<path d="M1045.8 1079.6L1056.3 1061.1L1066.8 1079.6Z" fill="#6A7B42" stroke="#000" stroke-width="1.5" stroke-linejoin="miter"/>
<rect x="1051.0" y="1081.2" width="12" height="12" fill="#8C8332" stroke="#000" stroke-width="1.5"/>
<rect x="1065.1" y="1094.5" width="12" height="12" fill="#DB9650" stroke="#000" stroke-width="1.5"/>
<rect x="1062.1" y="1097.7" width="12" height="12" fill="#DB9650" stroke="#000" stroke-width="1.5"/>
<rect x="1078.4" y="1103.9" width="12" height="12" fill="#DB9650" stroke="#000" stroke-width="1.5"/>
<rect x="1047.3" y="1091.1" width="12" height="12" fill="#B48B2E" stroke="#000" stroke-width="1.5"/>
<path d="M1068.9 1107.1L1070.9 1112.4L1076.5 1112.7L1072.1 1116.2L1073.6 1121.6L1068.9 1118.5L1064.2 1121.6L1065.7 1116.2L1061.3 1112.7L1066.9 1112.4Z" fill="#8C8332" stroke="#000" stroke-width="1.5"/>
<path d="M1091.1 1122.6L1099.1 1133.1L1091.1 1143.6L1083.1 1133.1Z" fill="#DB9650" stroke="#000" stroke-width="1.5"/>
<path d="M1082.2 1127.0L1090.2 1137.5L1082.2 1148.0L1074.2 1137.5Z" fill="#B48B2E" stroke="#000" stroke-width="1.5"/>
<path d="M1089.5 1154.9L1100.0 1136.4L1110.5 1154.9Z" fill="#547751" stroke="#000" stroke-width="1.5" stroke-linejoin="miter"/>
<circle cx="1099.3" cy="1154.5" r="9.4" fill="#B48B2E" stroke="#000" stroke-width="1.5"/>
<path d="M1111.0 1157.7L1121.5 1139.2L1132.0 1157.7Z" fill="#2C6A60" stroke="#000" stroke-width="1.5" stroke-linejoin="miter"/>
<path d="M1125.1 1171.9L1135.6 1153.4L1146.1 1171.9Z" fill="#8C8332" stroke="#000" stroke-width="1.5" stroke-linejoin="miter"/>
<circle cx="1047.4" cy="1099.6" r="9.4" fill="#8C8332" stroke="#000" stroke-width="1.5"/>
<circle cx="1026.7" cy="1091.0" r="9.4" fill="#DB9650" stroke="#000" stroke-width="1.5"/>
<circle cx="1037.0" cy="1106.9" r="9.4" fill="#8C8332" stroke="#000" stroke-width="1.5"/>
<circle cx="1064.4" cy="1136.4" r="9.4" fill="#6A7B42" stroke="#000" stroke-width="1.5"/>
<circle cx="1051.1" cy="1125.8" r="9.4" fill="#6A7B42" stroke="#000" stroke-width="1.5"/>
<path d="M1067.3 1153.9L1077.8 1135.4L1088.3 1153.9Z" fill="#6A7B42" stroke="#000" stroke-width="1.5" stroke-linejoin="miter"/>
<circle cx="1020.0" cy="1102.9" r="9.4" fill="#CC9140" stroke="#000" stroke-width="1.5"/>
<circle cx="997.8" cy="1080.6" r="9.4" fill="#CC9140" stroke="#000" stroke-width="1.5"/>
<path d="M973.9 1058.9L984.4 1040.4L994.9 1058.9Z" fill="#B48B2E" stroke="#000" stroke-width="1.5" stroke-linejoin="miter"/>
<circle cx="1012.6" cy="1108.5" r="9.4" fill="#6A7B42" stroke="#000" stroke-width="1.5"/>
<circle cx="1036.3" cy="1128.9" r="9.4" fill="#B48B2E" stroke="#000" stroke-width="1.5"/>
<circle cx="1042.2" cy="1134.2" r="9.4" fill="#B48B2E" stroke="#000" stroke-width="1.5"/>
<circle cx="1074.8" cy="1152.8" r="9.4" fill="#8C8332" stroke="#000" stroke-width="1.5"/>
<circle cx="1077.0" cy="1160.9" r="9.4" fill="#8C8332" stroke="#000" stroke-width="1.5"/>
<circle cx="1072.6" cy="1165.0" r="9.4" fill="#6A7B42" stroke="#000" stroke-width="1.5"/>
<circle cx="1053.3" cy="1163.3" r="9.4" fill="#6A7B42" stroke="#000" stroke-width="1.5"/>
<circle cx="1040.7" cy="1147.5" r="9.4" fill="#8C8332" stroke="#000" stroke-width="1.5"/>
<circle cx="1027.4" cy="1130.7" r="9.4" fill="#8C8332" stroke="#000" stroke-width="1.5"/>
<circle cx="994.8" cy="1095.3" r="9.4" fill="#B48B2E" stroke="#000" stroke-width="1.5"/>
<circle cx="991.9" cy="1106.1" r="9.4" fill="#6A7B42" stroke="#000" stroke-width="1.5"/>
<circle cx="977.0" cy="1088.2" r="9.4" fill="#6A7B42" stroke="#000" stroke-width="1.5"/>
<circle cx="987.4" cy="1107.6" r="9.4" fill="#B48B2E" stroke="#000" stroke-width="1.5"/>
<path d="M1002.1 1135.1L1012.6 1116.6L1023.1 1135.1Z" fill="#6A7B42" stroke="#000" stroke-width="1.5" stroke-linejoin="miter"/>
<path d="M1025.8 1155.9L1036.3 1137.4L1046.8 1155.9Z" fill="#6A7B42" stroke="#000" stroke-width="1.5" stroke-linejoin="miter"/>
<path d="M947.3 1098.4L957.8 1079.9L968.3 1098.4Z" fill="#B48B2E" stroke="#000" stroke-width="1.5" stroke-linejoin="miter"/>
<path d="M959.1 1088.8L969.6 1070.3L980.1 1088.8Z" fill="#8C8332" stroke="#000" stroke-width="1.5" stroke-linejoin="miter"/>
<circle cx="948.9" cy="1098.0" r="9.4" fill="#6A7B42" stroke="#000" stroke-width="1.5"/>
<circle cx="987.4" cy="1133.1" r="9.4" fill="#8C8332" stroke="#000" stroke-width="1.5"/>
<path d="M973.9 1131.2L984.4 1112.7L994.9 1131.2Z" fill="#2C6A60" stroke="#000" stroke-width="1.5" stroke-linejoin="miter"/>
<path d="M1002.1 1153.9L1012.6 1135.4L1023.1 1153.9Z" fill="#8C8332" stroke="#000" stroke-width="1.5" stroke-linejoin="miter"/>
<path d="M988.8 1140.0L999.3 1121.5L1009.8 1140.0Z" fill="#1F5C66" stroke="#000" stroke-width="1.5" stroke-linejoin="miter"/>
<path d="M963.6 1112.2L974.1 1093.7L984.6 1112.2Z" fill="#547751" stroke="#000" stroke-width="1.5" stroke-linejoin="miter"/>
<path d="M915.1 1083.3L925.6 1064.8L936.1 1083.3Z" fill="#8C8332" stroke="#000" stroke-width="1.5" stroke-linejoin="miter"/>
<circle cx="948.9" cy="1124.6" r="9.4" fill="#6A7B42" stroke="#000" stroke-width="1.5"/>
<circle cx="952.6" cy="1139.2" r="9.4" fill="#547751" stroke="#000" stroke-width="1.5"/>
<circle cx="965.2" cy="1131.4" r="9.4" fill="#6A7B42" stroke="#000" stroke-width="1.5"/>
<circle cx="977.0" cy="1134.8" r="9.4" fill="#6A7B42" stroke="#000" stroke-width="1.5"/>
<path d="M991.0 1162.5L1001.5 1144.0L1012.0 1162.5Z" fill="#547751" stroke="#000" stroke-width="1.5" stroke-linejoin="miter"/>
<path d="M971.7 1120.7L982.2 1102.2L992.7 1120.7Z" fill="#2C6A60" stroke="#000" stroke-width="1.5" stroke-linejoin="miter"/>
<path d="M962.8 1104.6L973.3 1086.1L983.8 1104.6Z" fill="#8C8332" stroke="#000" stroke-width="1.5" stroke-linejoin="miter"/>
<path d="M1174.7 1186.8L1185.2 1168.3L1195.7 1186.8Z" fill="#6A7B42" stroke="#000" stroke-width="1.5" stroke-linejoin="miter"/>
<path d="M1128.0 1173.6L1138.5 1155.1L1149.0 1173.6Z" fill="#8C8332" stroke="#000" stroke-width="1.5" stroke-linejoin="miter"/>
<path d="M964.3 1092.3L974.8 1073.8L985.3 1092.3Z" fill="#8C8332" stroke="#000" stroke-width="1.5" stroke-linejoin="miter"/>
<path d="M973.9 1091.2L984.4 1072.7L994.9 1091.2Z" fill="#8C8332" stroke="#000" stroke-width="1.5" stroke-linejoin="miter"/>
<path d="M1009.1 1072.6L1017.1 1083.1L1009.1 1093.6L1001.1 1083.1Z" fill="#DB9650" stroke="#000" stroke-width="1.5"/>
<path d="M1007.5 1088.5L1018.0 1070.0L1028.5 1088.5Z" fill="#8C8332" stroke="#000" stroke-width="1.5" stroke-linejoin="miter"/>
<path d="M1029.7 1092.3L1040.2 1073.8L1050.7 1092.3Z" fill="#8C8332" stroke="#000" stroke-width="1.5" stroke-linejoin="miter"/>
<circle cx="1018.6" cy="1093.3" r="9.4" fill="#B48B2E" stroke="#000" stroke-width="1.5"/>
<circle cx="1019.2" cy="1102.2" r="9.4" fill="#B48B2E" stroke="#000" stroke-width="1.5"/>
<circle cx="1028.1" cy="1092.0" r="9.4" fill="#DB9650" stroke="#000" stroke-width="1.5"/>
<circle cx="1016.7" cy="1118.7" r="9.4" fill="#B48B2E" stroke="#000" stroke-width="1.5"/>
<circle cx="992.0" cy="1106.0" r="9.4" fill="#6A7B42" stroke="#000" stroke-width="1.5"/>
<line x1="849.8" y1="1041.7" x2="1418.1" y2="1041.7" stroke="#A6A6A6" stroke-width="5.9" stroke-dasharray="23.7 23.6"/>
<line x1="849.8" y1="1189.8" x2="1418.1" y2="1189.8" stroke="#A6A6A6" stroke-width="5.9" stroke-dasharray="23.7 23.6"/>
<line x1="849.8" y1="1115.7" x2="1418.1" y2="1115.7" stroke="#000" stroke-width="6.7" stroke-dasharray="23.7 23.6"/>
<rect x="1165.2" y="1104.5" width="29.5" height="29.5" fill="none" stroke="#000" stroke-width="6.5"/>
</g>
<path d="M206.7 613.8L206.7 598.8M206.7 45.6L206.7 60.6M425.1 613.8L425.1 598.8M425.1 45.6L425.1 60.6M643.6 613.8L643.6 598.8M643.6 45.6L643.6 60.6M158.3 613.8L158.3 605.8M158.3 45.6L158.3 53.6M172.9 613.8L172.9 605.8M172.9 45.6L172.9 53.6M185.6 613.8L185.6 605.8M185.6 45.6L185.6 53.6M196.8 613.8L196.8 605.8M196.8 45.6L196.8 53.6M272.5 613.8L272.5 605.8M272.5 45.6L272.5 53.6M311.0 613.8L311.0 605.8M311.0 45.6L311.0 53.6M338.2 613.8L338.2 605.8M338.2 45.6L338.2 53.6M359.4 613.8L359.4 605.8M359.4 45.6L359.4 53.6M376.7 613.8L376.7 605.8M376.7 45.6L376.7 53.6M391.3 613.8L391.3 605.8M391.3 45.6L391.3 53.6M404.0 613.8L404.0 605.8M404.0 45.6L404.0 53.6M415.2 613.8L415.2 605.8M415.2 45.6L415.2 53.6M490.9 613.8L490.9 605.8M490.9 45.6L490.9 53.6M529.4 613.8L529.4 605.8M529.4 45.6L529.4 53.6M556.6 613.8L556.6 605.8M556.6 45.6L556.6 53.6M577.8 613.8L577.8 605.8M577.8 45.6L577.8 53.6M595.1 613.8L595.1 605.8M595.1 45.6L595.1 53.6M609.7 613.8L609.7 605.8M609.7 45.6L609.7 53.6M622.4 613.8L622.4 605.8M622.4 45.6L622.4 53.6M633.6 613.8L633.6 605.8M633.6 45.6L633.6 53.6M141.0 548.1L156.0 548.1M709.3 548.1L694.3 548.1M141.0 329.7L156.0 329.7M709.3 329.7L694.3 329.7M141.0 111.3L156.0 111.3M709.3 111.3L694.3 111.3M141.0 596.5L149.0 596.5M709.3 596.5L701.3 596.5M141.0 581.9L149.0 581.9M709.3 581.9L701.3 581.9M141.0 569.2L149.0 569.2M709.3 569.2L701.3 569.2M141.0 558.1L149.0 558.1M709.3 558.1L701.3 558.1M141.0 482.3L149.0 482.3M709.3 482.3L701.3 482.3M141.0 443.9L149.0 443.9M709.3 443.9L701.3 443.9M141.0 416.6L149.0 416.6M709.3 416.6L701.3 416.6M141.0 395.4L149.0 395.4M709.3 395.4L701.3 395.4M141.0 378.1L149.0 378.1M709.3 378.1L701.3 378.1M141.0 363.5L149.0 363.5M709.3 363.5L701.3 363.5M141.0 350.9L149.0 350.9M709.3 350.9L701.3 350.9M141.0 339.7L149.0 339.7M709.3 339.7L701.3 339.7M141.0 264.0L149.0 264.0M709.3 264.0L701.3 264.0M141.0 225.5L149.0 225.5M709.3 225.5L701.3 225.5M141.0 198.2L149.0 198.2M709.3 198.2L701.3 198.2M141.0 177.1L149.0 177.1M709.3 177.1L701.3 177.1M141.0 159.8L149.0 159.8M709.3 159.8L701.3 159.8M141.0 145.2L149.0 145.2M709.3 145.2L701.3 145.2M141.0 132.5L149.0 132.5M709.3 132.5L701.3 132.5M141.0 121.3L149.0 121.3M709.3 121.3L701.3 121.3" stroke="#262626" stroke-width="1.8" fill="none"/>
<rect x="141.0" y="45.6" width="568.3" height="568.2" fill="none" stroke="#262626" stroke-width="1.9"/>
<path d="M915.5 613.8L915.5 598.8M915.5 45.6L915.5 60.6M1133.9 613.8L1133.9 598.8M1133.9 45.6L1133.9 60.6M1352.4 613.8L1352.4 598.8M1352.4 45.6L1352.4 60.6M867.1 613.8L867.1 605.8M867.1 45.6L867.1 53.6M881.7 613.8L881.7 605.8M881.7 45.6L881.7 53.6M894.4 613.8L894.4 605.8M894.4 45.6L894.4 53.6M905.6 613.8L905.6 605.8M905.6 45.6L905.6 53.6M981.3 613.8L981.3 605.8M981.3 45.6L981.3 53.6M1019.8 613.8L1019.8 605.8M1019.8 45.6L1019.8 53.6M1047.0 613.8L1047.0 605.8M1047.0 45.6L1047.0 53.6M1068.2 613.8L1068.2 605.8M1068.2 45.6L1068.2 53.6M1085.5 613.8L1085.5 605.8M1085.5 45.6L1085.5 53.6M1100.1 613.8L1100.1 605.8M1100.1 45.6L1100.1 53.6M1112.8 613.8L1112.8 605.8M1112.8 45.6L1112.8 53.6M1124.0 613.8L1124.0 605.8M1124.0 45.6L1124.0 53.6M1199.7 613.8L1199.7 605.8M1199.7 45.6L1199.7 53.6M1238.2 613.8L1238.2 605.8M1238.2 45.6L1238.2 53.6M1265.4 613.8L1265.4 605.8M1265.4 45.6L1265.4 53.6M1286.6 613.8L1286.6 605.8M1286.6 45.6L1286.6 53.6M1303.9 613.8L1303.9 605.8M1303.9 45.6L1303.9 53.6M1318.5 613.8L1318.5 605.8M1318.5 45.6L1318.5 53.6M1331.2 613.8L1331.2 605.8M1331.2 45.6L1331.2 53.6M1342.4 613.8L1342.4 605.8M1342.4 45.6L1342.4 53.6M849.8 548.1L864.8 548.1M1418.1 548.1L1403.1 548.1M849.8 329.7L864.8 329.7M1418.1 329.7L1403.1 329.7M849.8 111.3L864.8 111.3M1418.1 111.3L1403.1 111.3M849.8 596.5L857.8 596.5M1418.1 596.5L1410.1 596.5M849.8 581.9L857.8 581.9M1418.1 581.9L1410.1 581.9M849.8 569.2L857.8 569.2M1418.1 569.2L1410.1 569.2M849.8 558.1L857.8 558.1M1418.1 558.1L1410.1 558.1M849.8 482.3L857.8 482.3M1418.1 482.3L1410.1 482.3M849.8 443.9L857.8 443.9M1418.1 443.9L1410.1 443.9M849.8 416.6L857.8 416.6M1418.1 416.6L1410.1 416.6M849.8 395.4L857.8 395.4M1418.1 395.4L1410.1 395.4M849.8 378.1L857.8 378.1M1418.1 378.1L1410.1 378.1M849.8 363.5L857.8 363.5M1418.1 363.5L1410.1 363.5M849.8 350.9L857.8 350.9M1418.1 350.9L1410.1 350.9M849.8 339.7L857.8 339.7M1418.1 339.7L1410.1 339.7M849.8 264.0L857.8 264.0M1418.1 264.0L1410.1 264.0M849.8 225.5L857.8 225.5M1418.1 225.5L1410.1 225.5M849.8 198.2L857.8 198.2M1418.1 198.2L1410.1 198.2M849.8 177.1L857.8 177.1M1418.1 177.1L1410.1 177.1M849.8 159.8L857.8 159.8M1418.1 159.8L1410.1 159.8M849.8 145.2L857.8 145.2M1418.1 145.2L1410.1 145.2M849.8 132.5L857.8 132.5M1418.1 132.5L1410.1 132.5M849.8 121.3L857.8 121.3M1418.1 121.3L1410.1 121.3" stroke="#262626" stroke-width="1.8" fill="none"/>
<rect x="849.8" y="45.6" width="568.3" height="568.2" fill="none" stroke="#262626" stroke-width="1.9"/>
<path d="M206.7 1250.3L206.7 1235.3M206.7 682.2L206.7 697.2M425.1 1250.3L425.1 1235.3M425.1 682.2L425.1 697.2M643.6 1250.3L643.6 1235.3M643.6 682.2L643.6 697.2M158.3 1250.3L158.3 1242.3M158.3 682.2L158.3 690.2M172.9 1250.3L172.9 1242.3M172.9 682.2L172.9 690.2M185.6 1250.3L185.6 1242.3M185.6 682.2L185.6 690.2M196.8 1250.3L196.8 1242.3M196.8 682.2L196.8 690.2M272.5 1250.3L272.5 1242.3M272.5 682.2L272.5 690.2M311.0 1250.3L311.0 1242.3M311.0 682.2L311.0 690.2M338.2 1250.3L338.2 1242.3M338.2 682.2L338.2 690.2M359.4 1250.3L359.4 1242.3M359.4 682.2L359.4 690.2M376.7 1250.3L376.7 1242.3M376.7 682.2L376.7 690.2M391.3 1250.3L391.3 1242.3M391.3 682.2L391.3 690.2M404.0 1250.3L404.0 1242.3M404.0 682.2L404.0 690.2M415.2 1250.3L415.2 1242.3M415.2 682.2L415.2 690.2M490.9 1250.3L490.9 1242.3M490.9 682.2L490.9 690.2M529.4 1250.3L529.4 1242.3M529.4 682.2L529.4 690.2M556.6 1250.3L556.6 1242.3M556.6 682.2L556.6 690.2M577.8 1250.3L577.8 1242.3M577.8 682.2L577.8 690.2M595.1 1250.3L595.1 1242.3M595.1 682.2L595.1 690.2M609.7 1250.3L609.7 1242.3M609.7 682.2L609.7 690.2M622.4 1250.3L622.4 1242.3M622.4 682.2L622.4 690.2M633.6 1250.3L633.6 1242.3M633.6 682.2L633.6 690.2M141.0 1241.6L149.0 1241.6M709.3 1241.6L701.3 1241.6M141.0 1224.1L149.0 1224.1M709.3 1224.1L701.3 1224.1M141.0 1206.6L156.0 1206.6M709.3 1206.6L694.3 1206.6M141.0 1189.1L149.0 1189.1M709.3 1189.1L701.3 1189.1M141.0 1171.6L149.0 1171.6M709.3 1171.6L701.3 1171.6M141.0 1154.2L149.0 1154.2M709.3 1154.2L701.3 1154.2M141.0 1136.7L149.0 1136.7M709.3 1136.7L701.3 1136.7M141.0 1119.2L156.0 1119.2M709.3 1119.2L694.3 1119.2M141.0 1101.7L149.0 1101.7M709.3 1101.7L701.3 1101.7M141.0 1084.2L149.0 1084.2M709.3 1084.2L701.3 1084.2M141.0 1066.8L149.0 1066.8M709.3 1066.8L701.3 1066.8M141.0 1049.3L149.0 1049.3M709.3 1049.3L701.3 1049.3M141.0 1031.8L156.0 1031.8M709.3 1031.8L694.3 1031.8M141.0 1014.3L149.0 1014.3M709.3 1014.3L701.3 1014.3M141.0 996.8L149.0 996.8M709.3 996.8L701.3 996.8M141.0 979.4L149.0 979.4M709.3 979.4L701.3 979.4M141.0 961.9L149.0 961.9M709.3 961.9L701.3 961.9M141.0 944.4L156.0 944.4M709.3 944.4L694.3 944.4M141.0 926.9L149.0 926.9M709.3 926.9L701.3 926.9M141.0 909.4L149.0 909.4M709.3 909.4L701.3 909.4M141.0 892.0L149.0 892.0M709.3 892.0L701.3 892.0M141.0 874.5L149.0 874.5M709.3 874.5L701.3 874.5M141.0 857.0L156.0 857.0M709.3 857.0L694.3 857.0M141.0 839.5L149.0 839.5M709.3 839.5L701.3 839.5M141.0 822.0L149.0 822.0M709.3 822.0L701.3 822.0M141.0 804.6L149.0 804.6M709.3 804.6L701.3 804.6M141.0 787.1L149.0 787.1M709.3 787.1L701.3 787.1M141.0 769.6L156.0 769.6M709.3 769.6L694.3 769.6M141.0 752.1L149.0 752.1M709.3 752.1L701.3 752.1M141.0 734.6L149.0 734.6M709.3 734.6L701.3 734.6M141.0 717.2L149.0 717.2M709.3 717.2L701.3 717.2M141.0 699.7L149.0 699.7M709.3 699.7L701.3 699.7" stroke="#262626" stroke-width="1.8" fill="none"/>
<rect x="141.0" y="682.2" width="568.3" height="568.1" fill="none" stroke="#262626" stroke-width="1.9"/>
<path d="M915.5 1250.3L915.5 1235.3M915.5 682.2L915.5 697.2M1133.9 1250.3L1133.9 1235.3M1133.9 682.2L1133.9 697.2M1352.4 1250.3L1352.4 1235.3M1352.4 682.2L1352.4 697.2M867.1 1250.3L867.1 1242.3M867.1 682.2L867.1 690.2M881.7 1250.3L881.7 1242.3M881.7 682.2L881.7 690.2M894.4 1250.3L894.4 1242.3M894.4 682.2L894.4 690.2M905.6 1250.3L905.6 1242.3M905.6 682.2L905.6 690.2M981.3 1250.3L981.3 1242.3M981.3 682.2L981.3 690.2M1019.8 1250.3L1019.8 1242.3M1019.8 682.2L1019.8 690.2M1047.0 1250.3L1047.0 1242.3M1047.0 682.2L1047.0 690.2M1068.2 1250.3L1068.2 1242.3M1068.2 682.2L1068.2 690.2M1085.5 1250.3L1085.5 1242.3M1085.5 682.2L1085.5 690.2M1100.1 1250.3L1100.1 1242.3M1100.1 682.2L1100.1 690.2M1112.8 1250.3L1112.8 1242.3M1112.8 682.2L1112.8 690.2M1124.0 1250.3L1124.0 1242.3M1124.0 682.2L1124.0 690.2M1199.7 1250.3L1199.7 1242.3M1199.7 682.2L1199.7 690.2M1238.2 1250.3L1238.2 1242.3M1238.2 682.2L1238.2 690.2M1265.4 1250.3L1265.4 1242.3M1265.4 682.2L1265.4 690.2M1286.6 1250.3L1286.6 1242.3M1286.6 682.2L1286.6 690.2M1303.9 1250.3L1303.9 1242.3M1303.9 682.2L1303.9 690.2M1318.5 1250.3L1318.5 1242.3M1318.5 682.2L1318.5 690.2M1331.2 1250.3L1331.2 1242.3M1331.2 682.2L1331.2 690.2M1342.4 1250.3L1342.4 1242.3M1342.4 682.2L1342.4 690.2M849.8 1241.6L857.8 1241.6M1418.1 1241.6L1410.1 1241.6M849.8 1224.1L857.8 1224.1M1418.1 1224.1L1410.1 1224.1M849.8 1206.6L864.8 1206.6M1418.1 1206.6L1403.1 1206.6M849.8 1189.1L857.8 1189.1M1418.1 1189.1L1410.1 1189.1M849.8 1171.6L857.8 1171.6M1418.1 1171.6L1410.1 1171.6M849.8 1154.2L857.8 1154.2M1418.1 1154.2L1410.1 1154.2M849.8 1136.7L857.8 1136.7M1418.1 1136.7L1410.1 1136.7M849.8 1119.2L864.8 1119.2M1418.1 1119.2L1403.1 1119.2M849.8 1101.7L857.8 1101.7M1418.1 1101.7L1410.1 1101.7M849.8 1084.2L857.8 1084.2M1418.1 1084.2L1410.1 1084.2M849.8 1066.8L857.8 1066.8M1418.1 1066.8L1410.1 1066.8M849.8 1049.3L857.8 1049.3M1418.1 1049.3L1410.1 1049.3M849.8 1031.8L864.8 1031.8M1418.1 1031.8L1403.1 1031.8M849.8 1014.3L857.8 1014.3M1418.1 1014.3L1410.1 1014.3M849.8 996.8L857.8 996.8M1418.1 996.8L1410.1 996.8M849.8 979.4L857.8 979.4M1418.1 979.4L1410.1 979.4M849.8 961.9L857.8 961.9M1418.1 961.9L1410.1 961.9M849.8 944.4L864.8 944.4M1418.1 944.4L1403.1 944.4M849.8 926.9L857.8 926.9M1418.1 926.9L1410.1 926.9M849.8 909.4L857.8 909.4M1418.1 909.4L1410.1 909.4M849.8 892.0L857.8 892.0M1418.1 892.0L1410.1 892.0M849.8 874.5L857.8 874.5M1418.1 874.5L1410.1 874.5M849.8 857.0L864.8 857.0M1418.1 857.0L1403.1 857.0M849.8 839.5L857.8 839.5M1418.1 839.5L1410.1 839.5M849.8 822.0L857.8 822.0M1418.1 822.0L1410.1 822.0M849.8 804.6L857.8 804.6M1418.1 804.6L1410.1 804.6M849.8 787.1L857.8 787.1M1418.1 787.1L1410.1 787.1M849.8 769.6L864.8 769.6M1418.1 769.6L1403.1 769.6M849.8 752.1L857.8 752.1M1418.1 752.1L1410.1 752.1M849.8 734.6L857.8 734.6M1418.1 734.6L1410.1 734.6M849.8 717.2L857.8 717.2M1418.1 717.2L1410.1 717.2M849.8 699.7L857.8 699.7M1418.1 699.7L1410.1 699.7" stroke="#262626" stroke-width="1.8" fill="none"/>
<rect x="849.8" y="682.2" width="568.3" height="568.1" fill="none" stroke="#262626" stroke-width="1.9"/>
<text x="128.5" y="626.3" font-size="36" text-anchor="end" fill="#262626" font-family="Liberation Serif" >5</text>
<text x="128.5" y="560.6" font-size="36" text-anchor="end" fill="#262626" font-family="Liberation Serif" >10</text>
<text x="128.5" y="342.2" font-size="36" text-anchor="end" fill="#262626" font-family="Liberation Serif" >100</text>
<text x="128.5" y="123.8" font-size="36" text-anchor="end" fill="#262626" font-family="Liberation Serif" >1000</text>
<text x="128.5" y="694.7" font-size="36" text-anchor="end" fill="#262626" font-family="Liberation Serif" >500</text>
<text x="128.5" y="782.1" font-size="36" text-anchor="end" fill="#262626" font-family="Liberation Serif" >400</text>
<text x="128.5" y="869.5" font-size="36" text-anchor="end" fill="#262626" font-family="Liberation Serif" >300</text>
<text x="128.5" y="956.9" font-size="36" text-anchor="end" fill="#262626" font-family="Liberation Serif" >200</text>
<text x="128.5" y="1044.3" font-size="36" text-anchor="end" fill="#262626" font-family="Liberation Serif" >100</text>
<text x="128.5" y="1131.7" font-size="36" text-anchor="end" fill="#262626" font-family="Liberation Serif" >0</text>
<text x="128.5" y="1219.1" font-size="36" text-anchor="end" fill="#262626" font-family="Liberation Serif" >-100</text>
<text x="141.0" y="1296.5" font-size="36" text-anchor="middle" fill="#262626" font-family="Liberation Serif" >5</text>
<text x="206.7" y="1296.5" font-size="36" text-anchor="middle" fill="#262626" font-family="Liberation Serif" >10</text>
<text x="425.1" y="1296.5" font-size="36" text-anchor="middle" fill="#262626" font-family="Liberation Serif" >100</text>
<text x="643.6" y="1296.5" font-size="36" text-anchor="middle" fill="#262626" font-family="Liberation Serif" >1000</text>
<text x="849.8" y="1296.5" font-size="36" text-anchor="middle" fill="#262626" font-family="Liberation Serif" >5</text>
<text x="915.5" y="1296.5" font-size="36" text-anchor="middle" fill="#262626" font-family="Liberation Serif" >10</text>
<text x="1133.9" y="1296.5" font-size="36" text-anchor="middle" fill="#262626" font-family="Liberation Serif" >100</text>
<text x="1352.4" y="1296.5" font-size="36" text-anchor="middle" fill="#262626" font-family="Liberation Serif" >1000</text>
<text x="246.3" y="33.3" font-size="38" text-anchor="start" fill="#000" font-family="Liberation Serif" textLength="354.0" lengthAdjust="spacing" font-weight="bold">Model A, <tspan font-style="italic" font-weight="normal">λ</tspan> = 550 nm</text>
<text x="955.0" y="33.3" font-size="38" text-anchor="start" fill="#000" font-family="Liberation Serif" textLength="354.0" lengthAdjust="spacing" font-weight="bold">Model B, <tspan font-style="italic" font-weight="normal">λ</tspan> = 550 nm</text>
<text x="140" y="31.7" font-size="29.5" font-weight="bold" font-family="Liberation Sans">A</text>
<text x="849" y="31.7" font-size="29.5" font-weight="bold" font-family="Liberation Sans">B</text>
<text x="141" y="664.8" font-size="29.5" font-weight="bold" font-family="Liberation Sans">C</text>
<text x="849" y="664.6" font-size="29.5" font-weight="bold" font-family="Liberation Sans">D</text>
<text transform="translate(44,527.5) rotate(-90)" font-size="39.5" textLength="394.5" lengthAdjust="spacing" fill="#262626" font-family="Liberation Serif">Estimated POC [mg m<tspan dx="2" dy="-19" font-size="28.5">-3</tspan><tspan dx="1" dy="19">]</tspan></text>
<text transform="translate(50.9,1070.5) rotate(-90)" font-size="39.5" textLength="206.5" lengthAdjust="spacing" fill="#262626" font-family="Liberation Serif">Residual [%]</text>
<text x="227.0" y="1337" font-size="39.5" textLength="395" lengthAdjust="spacing" fill="#262626" font-family="Liberation Serif">Measured POC [mg m<tspan dx="2" dy="-19" font-size="28.5">-3</tspan><tspan dx="1" dy="19">]</tspan></text>
<text x="935.8" y="1337" font-size="39.5" textLength="395" lengthAdjust="spacing" fill="#262626" font-family="Liberation Serif">Measured POC [mg m<tspan dx="2" dy="-19" font-size="28.5">-3</tspan><tspan dx="1" dy="19">]</tspan></text>
<text x="158.4" y="91.4" font-size="27" text-anchor="start" fill="#000" font-family="Liberation Serif" textLength="244.3" lengthAdjust="spacing" >RMSD = 132 mg m<tspan dy="-12" font-size="19">-3</tspan></text>
<text x="158.4" y="128.5" font-size="27" text-anchor="start" fill="#000" font-family="Liberation Serif" textLength="184.7" lengthAdjust="spacing" >MdAPD = 27 %</text>
<text x="158.4" y="168.0" font-size="27" text-anchor="start" fill="#000" font-family="Liberation Serif" textLength="164.3" lengthAdjust="spacing" >MdSA = 32 %</text>
<text x="158.4" y="208.8" font-size="27" text-anchor="start" fill="#000" font-family="Liberation Serif" textLength="202.9" lengthAdjust="spacing" >MnB = -2 mg m<tspan dy="-12" font-size="19">-3</tspan></text>
<text x="158.4" y="241.4" font-size="27" text-anchor="start" fill="#000" font-family="Liberation Serif" textLength="136.8" lengthAdjust="spacing" >MdR = 0.93</text>
<text x="866.1" y="91.4" font-size="27" text-anchor="start" fill="#000" font-family="Liberation Serif" textLength="229.0" lengthAdjust="spacing" >RMSD = 97 mg m<tspan dy="-12" font-size="19">-3</tspan></text>
<text x="866.1" y="128.5" font-size="27" text-anchor="start" fill="#000" font-family="Liberation Serif" textLength="184.8" lengthAdjust="spacing" >MdAPD = 20 %</text>
<text x="866.1" y="168.0" font-size="27" text-anchor="start" fill="#000" font-family="Liberation Serif" textLength="164.7" lengthAdjust="spacing" >MdSA = 22 %</text>
<text x="866.1" y="208.8" font-size="27" text-anchor="start" fill="#000" font-family="Liberation Serif" textLength="193.4" lengthAdjust="spacing" >MnB = 3 mg m<tspan dy="-12" font-size="19">-3</tspan></text>
<text x="866.1" y="241.4" font-size="27" text-anchor="start" fill="#000" font-family="Liberation Serif" textLength="137.4" lengthAdjust="spacing" >MdR = 0.98</text>
<text x="463.8" y="503.9" font-size="27.5" text-anchor="start" fill="#777777" font-family="Liberation Serif" textLength="131.3" lengthAdjust="spacing" >Hits = 61%</text>
<text x="464.1" y="547.9" font-size="27.5" text-anchor="start" fill="#000" font-family="Liberation Serif" textLength="159.9" lengthAdjust="spacing" >Y = 1.02X<tspan dy="-13" font-size="19">0.99</tspan></text>
<text x="463.2" y="577.2" font-size="27.5" text-anchor="start" fill="#000" font-family="Liberation Serif" textLength="199.5" lengthAdjust="spacing" ><tspan font-style="italic">r</tspan> = 0.83; <tspan font-style="italic">N</tspan> = 257</text>
<text x="1172.6" y="503.9" font-size="27.5" text-anchor="start" fill="#777777" font-family="Liberation Serif" textLength="131.5" lengthAdjust="spacing" >Hits = 78%</text>
<text x="1172.9" y="547.9" font-size="27.5" text-anchor="start" fill="#000" font-family="Liberation Serif" textLength="160.8" lengthAdjust="spacing" >Y = 0.91X<tspan dy="-13" font-size="19">1.02</tspan></text>
<text x="1172.0" y="577.2" font-size="27.5" text-anchor="start" fill="#000" font-family="Liberation Serif" textLength="201.4" lengthAdjust="spacing" ><tspan font-style="italic">r</tspan> = 0.92; <tspan font-style="italic">N</tspan> = 257</text>
<path d="M562.8 739.4L573.7 720.9L584.5 739.4Z" fill="none" stroke="#000" stroke-width="1.5"/>
<path d="M573.7 756.2L575.9 762.4L582.5 762.6L577.3 766.7L579.2 773.0L573.7 769.3L568.2 773.0L570.1 766.7L564.9 762.6L571.5 762.4Z" fill="none" stroke="#000" stroke-width="1.5"/>
<path d="M573.7 787L582.8 798.6L573.7 810.2L564.6 798.6Z" fill="none" stroke="#000" stroke-width="1.5"/>
<rect x="567.3" y="824.5" width="12.8" height="12.8" fill="none" stroke="#000" stroke-width="1.5"/>
<circle cx="573.7" cy="863" r="9.2" fill="none" stroke="#000" stroke-width="1.5"/>
<path d="M562.8 889.9L573.7 908.3L584.5 889.9Z" fill="none" stroke="#000" stroke-width="1.5"/>
<defs><linearGradient id="cb" x1="0" y1="1" x2="0" y2="0"><stop offset="0.000" stop-color="#011959"/><stop offset="0.111" stop-color="#10405F"/><stop offset="0.222" stop-color="#1C5A62"/><stop offset="0.333" stop-color="#3C6D56"/><stop offset="0.444" stop-color="#687B3E"/><stop offset="0.556" stop-color="#9D8A2F"/><stop offset="0.667" stop-color="#D29443"/><stop offset="0.778" stop-color="#F8A17B"/><stop offset="0.889" stop-color="#FDB7BC"/><stop offset="1.000" stop-color="#FACCFA"/></linearGradient></defs>
<rect x="1309.6" y="751.6" width="44.4" height="222.4" fill="url(#cb)" stroke="#262626" stroke-width="1.5"/>
<path d="M1309.6 771.8h4M1309.6 861.1h4M1309.6 950.7h4" stroke="#262626" stroke-width="1.5"/>
<text x="1297.0" y="780.0" font-size="28" text-anchor="end" fill="#262626" font-family="Liberation Serif" >1000</text>
<text x="1297.0" y="869.6" font-size="28" text-anchor="end" fill="#262626" font-family="Liberation Serif" >100</text>
<text x="1297.0" y="959.3" font-size="28" text-anchor="end" fill="#262626" font-family="Liberation Serif" >10</text>
<text x="1267.0" y="733.3" font-size="28" text-anchor="start" fill="#000" font-family="Liberation Serif" textLength="127.0" lengthAdjust="spacing" >ς [mg m<tspan dy="-12" font-size="19">-2</tspan><tspan dy="12">]</tspan></text>
<text x="603.6" y="738.8" font-size="25" text-anchor="start" fill="#000" font-family="Liberation Serif" textLength="83.8" lengthAdjust="spacing" >NP ICE</text>
<text x="603.6" y="771.4" font-size="25" text-anchor="start" fill="#000" font-family="Liberation Serif" textLength="59.1" lengthAdjust="spacing" >SPSS</text>
<text x="603.6" y="804.0" font-size="25" text-anchor="start" fill="#000" font-family="Liberation Serif" textLength="60.2" lengthAdjust="spacing" >STSS</text>
<text x="603.6" y="836.6" font-size="25" text-anchor="start" fill="#000" font-family="Liberation Serif" textLength="53.8" lengthAdjust="spacing" >EQU</text>
<text x="603.6" y="869.2" font-size="25" text-anchor="start" fill="#000" font-family="Liberation Serif" textLength="60.2" lengthAdjust="spacing" >STPS</text>
<text x="603.6" y="901.8" font-size="25" text-anchor="start" fill="#000" font-family="Liberation Serif" textLength="83.7" lengthAdjust="spacing" >SO ICE</text></svg></body></html>
